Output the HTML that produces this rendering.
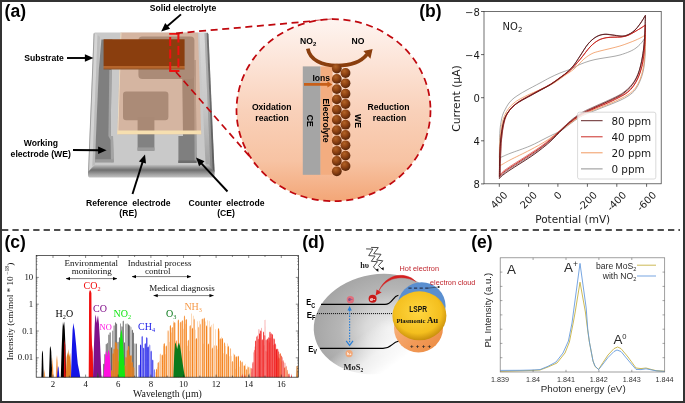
<!DOCTYPE html>
<html lang="en"><head><meta charset="utf-8"><title>Gas sensing figure</title>
<style>html,body{margin:0;padding:0;background:#fff;}body{width:685px;height:403px;overflow:hidden;}svg{display:block;}</style>
</head><body>
<svg width="685" height="403" viewBox="0 0 685 403">
<defs>
<linearGradient id="gCirc" x1="0" y1="0" x2="0" y2="1">
 <stop offset="0" stop-color="#fef5f1"/>
 <stop offset="0.25" stop-color="#fce3d6"/>
 <stop offset="0.5" stop-color="#f9d1ba"/>
 <stop offset="0.78" stop-color="#f7c3a3"/>
 <stop offset="1" stop-color="#f3a677"/>
</linearGradient>
<radialGradient id="gBall" cx="0.38" cy="0.3" r="0.75">
 <stop offset="0" stop-color="#b36326"/>
 <stop offset="0.5" stop-color="#8c4112"/>
 <stop offset="1" stop-color="#52230a"/>
</radialGradient>
<linearGradient id="gBase" x1="0" y1="0" x2="1" y2="0">
 <stop offset="0" stop-color="#8a8a8a"/>
 <stop offset="0.025" stop-color="#d2d2d2"/>
 <stop offset="0.07" stop-color="#c9c9c9"/>
 <stop offset="0.90" stop-color="#cbcbcb"/>
 <stop offset="0.955" stop-color="#dedede"/>
 <stop offset="1" stop-color="#9a9a9a"/>
</linearGradient>
<linearGradient id="gBevel" x1="0" y1="0" x2="0" y2="1">
 <stop offset="0" stop-color="#c6c6c6"/>
 <stop offset="0.42" stop-color="#6e6e6e"/>
 <stop offset="0.78" stop-color="#a6a6a6"/>
 <stop offset="1" stop-color="#c2c2c2"/>
</linearGradient>
<radialGradient id="gGold" cx="0.47" cy="0.42" r="0.58">
 <stop offset="0" stop-color="#ffd640"/>
 <stop offset="0.75" stop-color="#f4bf1e"/>
 <stop offset="1" stop-color="#c98f0c"/>
</radialGradient>
<radialGradient id="gMoS" cx="0.58" cy="0.56" r="0.62">
 <stop offset="0" stop-color="#ededed"/>
 <stop offset="0.3" stop-color="#dadada"/>
 <stop offset="0.62" stop-color="#b6b6b6"/>
 <stop offset="1" stop-color="#a3a3a3"/>
</radialGradient>
<linearGradient id="gFade" x1="0.30" y1="0.62" x2="0.52" y2="0.95">
 <stop offset="0" stop-color="#fff" stop-opacity="0"/>
 <stop offset="0.55" stop-color="#fff" stop-opacity="0.75"/>
 <stop offset="1" stop-color="#fff" stop-opacity="1"/>
</linearGradient>
<linearGradient id="gOrg" x1="0" y1="0" x2="1" y2="1">
 <stop offset="0" stop-color="#f9bc8e"/>
 <stop offset="0.6" stop-color="#f29a58"/>
 <stop offset="1" stop-color="#ea8a40"/>
</linearGradient>
<linearGradient id="gRShade" x1="0" y1="0" x2="0" y2="1">
 <stop offset="0" stop-color="#404040" stop-opacity="0"/>
 <stop offset="0.5" stop-color="#404040" stop-opacity="0.1"/>
 <stop offset="1" stop-color="#404040" stop-opacity="0.38"/>
</linearGradient>
<marker id="arrS" viewBox="0 0 10 10" refX="9.5" refY="5" markerUnits="userSpaceOnUse" markerWidth="4.4" markerHeight="4.4" orient="auto-start-reverse"><path d="M0,1.2 L10,5 L0,8.8 z" fill="#000"/></marker>
</defs>
<rect x="0" y="0" width="685" height="403" fill="#333"/>
<rect x="2" y="2" width="681" height="399" fill="#fff"/>
<line x1="2" y1="230.1" x2="680" y2="230.1" stroke="#151515" stroke-width="1.5" stroke-dasharray="6.3,4.106"/>
<text x="4.6" y="17.4" font-size="17.5" font-weight="bold" text-anchor="start" fill="#000" font-family='"Liberation Sans", Arial, Helvetica, sans-serif' >(a)</text>
<text x="419.2" y="17.2" font-size="17.5" font-weight="bold" text-anchor="start" fill="#000" font-family='"Liberation Sans", Arial, Helvetica, sans-serif' >(b)</text>
<text x="4.4" y="248.4" font-size="17.5" font-weight="bold" text-anchor="start" fill="#000" font-family='"Liberation Sans", Arial, Helvetica, sans-serif' >(c)</text>
<text x="302.3" y="248.2" font-size="17.5" font-weight="bold" text-anchor="start" fill="#000" font-family='"Liberation Sans", Arial, Helvetica, sans-serif' >(d)</text>
<text x="471.2" y="248.2" font-size="17.5" font-weight="bold" text-anchor="start" fill="#000" font-family='"Liberation Sans", Arial, Helvetica, sans-serif' >(e)</text>
<path d="M95,32.5 L207,32.5 Q208.3,32.5 208.4,34 L214.4,172 L88.2,172 L93.7,34 Q93.8,32.5 95,32.5Z" fill="#c9c9c9"/>
<polygon points="94.2,33 97.6,35 92.4,166 88.6,171.6" fill="#d4d4d4"/>
<polygon points="97.6,35 100,37 95,164.5 92.4,166" fill="#bcbcbc"/>
<line x1="94.1" y1="33.4" x2="88.5" y2="172" stroke="#9a9a9a" stroke-width="0.9"/>
<polygon points="199.5,33 204.5,33 210.4,167 205.5,164.5" fill="#d8d8d8"/>
<polygon points="204.5,33 206.6,33 212.6,170 210.4,167" fill="#b0b0b0"/>
<polygon points="206.6,33 207.6,32.8 208.5,34.5 214.6,172 212.6,170" fill="#6e6e6e"/>
<polygon points="199.5,33 207.6,32.8 214.6,172 205.5,164.5" fill="url(#gRShade)"/>
<path d="M95,164.5 L208.7,164.5 L214.6,172 L214.6,175 Q214.6,177.6 212,177.6 L90.6,177.6 Q88,177.6 88,175 L88,172Z" fill="url(#gBevel)"/>
<polygon points="101.4,39.4 112.3,39.4 111.6,70 110.6,136 113,136 113.6,162.3 95,162.3 96.6,120 98.8,70" fill="#7f7f7f"/>
<polygon points="109.3,70 111.6,70 110.6,136 113,136 113.6,162.3 111,162.3 110.6,140 108.4,136" fill="#a4a4a4"/>
<polygon points="95.1,159.3 113.5,159.3 113.6,162.3 95,162.3" fill="#9b9b9b"/>
<polygon points="182,60 195.6,60 196.3,136 196.6,163 178.4,163 178.4,136 183,136" fill="#7f7f7f"/>
<polygon points="194,60 195.6,60 196.6,163 194.6,163" fill="#a0a0a0"/>
<polygon points="178.4,160.4 196.5,160.4 196.6,163 178.4,163" fill="#6c6c6c"/>
<rect x="138.4" y="36.4" width="56" height="42.6" rx="4" fill="#858585"/>
<rect x="123" y="91.5" width="45.4" height="28.8" rx="3.2" fill="#858585"/>
<rect x="137.6" y="117" width="16.8" height="33.6" fill="#828282"/>
<rect x="137.6" y="147.4" width="16.8" height="3.4" fill="#9b9b9b"/>
<polygon points="120.6,32.6 198,32.6 201.2,134.2 117.4,134.2" fill="#e79561" fill-opacity="0.39"/>
<polygon points="120.6,32.6 121.4,32.6 118.2,134.2 117.4,134.2" fill="#f3e6cc" fill-opacity="0.9"/>
<polygon points="117.5,130.6 201.1,130.6 201.2,134.2 117.4,134.2" fill="#f6dfb0"/>
<polygon points="103.6,39.2 184.6,39.2 184.6,66 103.6,66" fill="#8a3e0e"/>
<polygon points="103.6,66 184.6,66 184.6,69.3 103.6,69.3" fill="#b5652c"/>
<polygon points="103.6,68.4 184.6,68.4 184.6,69.6 103.6,69.6" fill="#7a4a2a" fill-opacity="0.6"/>
<path d="M170.2,71 L170.2,33.6 M178.4,33.6 L178.4,71" fill="none" stroke="#ee1111" stroke-width="2" stroke-dasharray="9,3.5"/>
<path d="M169.2,33.8 L179.4,33.8 M169.2,71 L179.4,71" fill="none" stroke="#ee1111" stroke-width="1.8"/>
<line x1="176" y1="33.3" x2="334" y2="19.2" stroke="#c0080e" stroke-width="1.75" stroke-dasharray="7,4.6"/>
<line x1="176" y1="72" x2="251" y2="158" stroke="#c0080e" stroke-width="1.75" stroke-dasharray="7,4.6"/>
<ellipse cx="333.5" cy="110.2" rx="97" ry="91" fill="url(#gCirc)" stroke="#c0080e" stroke-width="1.75" stroke-dasharray="7,4.6"/>
<rect x="302.8" y="66.4" width="17.8" height="108.4" fill="#a5a5a5"/>
<rect x="320.6" y="66.4" width="12" height="108.4" fill="#f3ad80"/>
<path d="M307.8,48.6 C310,60 322,65.6 337,65.6 C351,65.6 361.5,61.4 367,54.4" fill="none" stroke="#8a3e0e" stroke-width="3.7"/>
<polygon points="372.6,49 363.4,51 370.4,58.8" fill="#8a3e0e"/>
<circle cx="336.8" cy="68.6" r="4.9" fill="url(#gBall)"/>
<circle cx="336.8" cy="78.9" r="4.9" fill="url(#gBall)"/>
<circle cx="336.8" cy="89.1" r="4.9" fill="url(#gBall)"/>
<circle cx="336.8" cy="99.4" r="4.9" fill="url(#gBall)"/>
<circle cx="336.8" cy="109.7" r="4.9" fill="url(#gBall)"/>
<circle cx="336.8" cy="119.9" r="4.9" fill="url(#gBall)"/>
<circle cx="336.8" cy="130.2" r="4.9" fill="url(#gBall)"/>
<circle cx="336.8" cy="140.5" r="4.9" fill="url(#gBall)"/>
<circle cx="336.8" cy="150.8" r="4.9" fill="url(#gBall)"/>
<circle cx="336.8" cy="161.0" r="4.9" fill="url(#gBall)"/>
<circle cx="336.8" cy="171.3" r="4.9" fill="url(#gBall)"/>
<circle cx="345.5" cy="73.0" r="4.9" fill="url(#gBall)"/>
<circle cx="345.5" cy="83.3" r="4.9" fill="url(#gBall)"/>
<circle cx="345.5" cy="93.7" r="4.9" fill="url(#gBall)"/>
<circle cx="345.5" cy="104.0" r="4.9" fill="url(#gBall)"/>
<circle cx="345.5" cy="114.3" r="4.9" fill="url(#gBall)"/>
<circle cx="345.5" cy="124.7" r="4.9" fill="url(#gBall)"/>
<circle cx="345.5" cy="135.0" r="4.9" fill="url(#gBall)"/>
<circle cx="345.5" cy="145.3" r="4.9" fill="url(#gBall)"/>
<circle cx="345.5" cy="155.6" r="4.9" fill="url(#gBall)"/>
<circle cx="345.5" cy="166.0" r="4.9" fill="url(#gBall)"/>
<polygon points="304,83 327.4,83 327.4,81.2 332.4,84.4 327.4,87.6 327.4,85.8 304,85.8" fill="#c8601a"/>
<text x="321.3" y="81" font-size="8.6" font-weight="bold" text-anchor="middle" fill="#000" font-family='"Liberation Sans", Arial, Helvetica, sans-serif' >Ions</text>
<text x="300" y="44.2" font-size="8.6" font-weight="bold" text-anchor="start" fill="#000" font-family='"Liberation Sans", Arial, Helvetica, sans-serif' >NO<tspan font-size="6" dy="2.2">2</tspan></text>
<text x="358" y="44.4" font-size="8.6" font-weight="bold" text-anchor="middle" fill="#000" font-family='"Liberation Sans", Arial, Helvetica, sans-serif' >NO</text>
<text transform="translate(307.2,120.7) rotate(90)" font-size="8.6" font-weight="bold" text-anchor="middle" font-family='"Liberation Sans", Arial, Helvetica, sans-serif'>CE</text>
<text transform="translate(323.4,120.5) rotate(90)" font-size="8.6" font-weight="bold" text-anchor="middle" font-family='"Liberation Sans", Arial, Helvetica, sans-serif'>Electrolyte</text>
<text transform="translate(354.6,121) rotate(90)" font-size="8.6" font-weight="bold" text-anchor="middle" font-family='"Liberation Sans", Arial, Helvetica, sans-serif'>WE</text>
<text x="271.7" y="110.4" font-size="8.6" font-weight="bold" text-anchor="middle" fill="#000" font-family='"Liberation Sans", Arial, Helvetica, sans-serif' >Oxidation</text>
<text x="272" y="120.6" font-size="8.6" font-weight="bold" text-anchor="middle" fill="#000" font-family='"Liberation Sans", Arial, Helvetica, sans-serif' >reaction</text>
<text x="388.5" y="110.4" font-size="8.6" font-weight="bold" text-anchor="middle" fill="#000" font-family='"Liberation Sans", Arial, Helvetica, sans-serif' >Reduction</text>
<text x="389.5" y="120.6" font-size="8.6" font-weight="bold" text-anchor="middle" fill="#000" font-family='"Liberation Sans", Arial, Helvetica, sans-serif' >reaction</text>
<text x="183" y="11" font-size="8.6" font-weight="bold" text-anchor="middle" fill="#000" font-family='"Liberation Sans", Arial, Helvetica, sans-serif' >Solid electrolyte</text>
<line x1="181.0" y1="14.4" x2="166.9" y2="26.5" stroke="#000" stroke-width="1.9"/><polygon points="161.2,31.4 165.2,23.1 170.1,28.7" fill="#000"/>
<text x="44" y="61" font-size="8.6" font-weight="bold" text-anchor="middle" fill="#000" font-family='"Liberation Sans", Arial, Helvetica, sans-serif' >Substrate</text>
<line x1="67.0" y1="58.0" x2="85.9" y2="58.0" stroke="#000" stroke-width="1.9"/><polygon points="93.4,58.0 84.9,61.7 84.9,54.3" fill="#000"/>
<text x="40.8" y="146.4" font-size="8.6" font-weight="bold" text-anchor="middle" fill="#000" font-family='"Liberation Sans", Arial, Helvetica, sans-serif' >Working</text>
<text x="40.7" y="156.6" font-size="8.6" font-weight="bold" text-anchor="middle" fill="#000" font-family='"Liberation Sans", Arial, Helvetica, sans-serif' >electrode (WE)</text>
<line x1="73.0" y1="150.0" x2="99.1" y2="150.2" stroke="#000" stroke-width="1.9"/><polygon points="106.6,150.3 98.1,153.9 98.1,146.5" fill="#000"/>
<text x="128.2" y="205.8" font-size="8.6" font-weight="bold" text-anchor="middle" fill="#000" font-family='"Liberation Sans", Arial, Helvetica, sans-serif' xml:space="preserve">Reference  electrode</text>
<text x="128.2" y="216" font-size="8.6" font-weight="bold" text-anchor="middle" fill="#000" font-family='"Liberation Sans", Arial, Helvetica, sans-serif' >(RE)</text>
<text x="226.5" y="205.8" font-size="8.6" font-weight="bold" text-anchor="middle" fill="#000" font-family='"Liberation Sans", Arial, Helvetica, sans-serif' xml:space="preserve">Counter  electrode</text>
<text x="226" y="216" font-size="8.6" font-weight="bold" text-anchor="middle" fill="#000" font-family='"Liberation Sans", Arial, Helvetica, sans-serif' >(CE)</text>
<line x1="132.5" y1="194.0" x2="142.7" y2="161.6" stroke="#000" stroke-width="1.9"/><polygon points="145.0,154.4 146.0,163.6 138.9,161.4" fill="#000"/>
<line x1="227.5" y1="191.5" x2="201.1" y2="163.1" stroke="#000" stroke-width="1.9"/><polygon points="196.0,157.6 204.5,161.3 199.1,166.3" fill="#000"/>
<path d="M499.4,158.0 C499.4,155.8 499.4,149.8 499.5,145.0 C499.6,140.2 499.7,134.2 500.0,130.0 C500.3,125.8 500.9,122.7 501.4,120.0 C501.9,117.3 502.4,115.8 503.0,114.0 C503.6,112.2 504.2,111.3 505.2,109.4 C506.2,107.5 507.5,104.9 509.0,103.0 C510.5,101.1 512.1,99.5 514.0,98.0 C515.9,96.5 518.0,95.3 520.0,94.0 C522.0,92.7 522.6,92.4 526.0,90.5 C529.4,88.6 535.9,85.2 540.0,83.0 C544.1,80.8 546.6,79.3 550.0,77.6 C553.4,75.9 556.3,74.5 560.0,73.0 C563.7,71.5 568.6,70.1 572.0,68.6 C575.4,67.1 576.9,65.7 580.0,64.4 C583.1,63.1 586.6,61.8 590.0,60.8 C593.4,59.8 596.6,59.2 600.0,58.6 C603.4,58.0 606.6,57.6 610.0,57.0 C613.4,56.4 616.6,56.0 620.0,55.0 C623.4,54.0 627.3,52.6 630.0,51.4 C632.7,50.2 634.3,49.2 636.0,48.0 C637.7,46.8 638.8,45.6 640.0,44.4 C641.2,43.2 642.1,42.1 643.0,40.8 C643.9,39.5 645.0,37.6 645.4,37.0" fill="none" stroke="#8c8c8c" stroke-width="0.75" stroke-linejoin="round"/>
<path d="M645.4,37.0 C645.4,39.2 645.4,45.8 645.3,50.0 C645.2,54.2 645.0,58.3 644.6,62.0 C644.2,65.7 643.8,68.8 643.0,72.0 C642.2,75.2 641.3,78.0 640.0,81.0 C638.7,84.0 637.4,87.0 635.5,89.5 C633.6,92.0 631.6,93.6 629.0,95.5 C626.4,97.4 623.2,98.9 620.0,100.4 C616.8,101.9 613.4,103.2 610.0,104.6 C606.6,106.0 603.4,107.2 600.0,108.5 C596.6,109.8 593.4,111.1 590.0,112.5 C586.6,113.9 583.4,115.0 580.0,117.0 C576.6,119.0 573.1,121.8 570.0,124.0 C566.9,126.2 566.1,127.6 562.0,130.0 C557.9,132.4 551.4,135.3 546.0,138.0 C540.6,140.7 536.1,143.4 530.0,146.0 C523.9,148.6 514.6,151.6 510.0,153.4 C505.4,155.2 504.8,155.6 503.0,156.4 C501.2,157.2 500.0,157.7 499.4,158.0" fill="none" stroke="#8c8c8c" stroke-width="0.75" stroke-linejoin="round"/>
<path d="M499.4,166.0 C499.4,163.3 499.4,155.1 499.6,150.0 C499.8,144.9 499.9,140.4 500.3,136.0 C500.7,131.6 501.3,127.5 502.0,124.0 C502.7,120.5 503.5,118.2 504.6,115.5 C505.7,112.8 507.0,110.5 508.6,108.4 C510.2,106.3 512.1,104.6 514.0,103.0 C515.9,101.4 517.3,100.5 520.0,99.0 C522.7,97.5 525.9,95.9 530.0,94.0 C534.1,92.1 539.9,89.9 544.0,88.0 C548.1,86.1 550.6,85.0 554.0,83.0 C557.4,81.0 560.6,78.4 564.0,76.0 C567.4,73.6 570.6,71.9 574.0,69.0 C577.4,66.1 580.9,61.6 584.0,59.0 C587.1,56.4 589.3,55.0 592.0,53.6 C594.7,52.2 596.9,51.9 600.0,51.0 C603.1,50.1 606.6,49.5 610.0,48.6 C613.4,47.8 616.9,46.9 620.0,46.0 C623.1,45.1 625.3,44.2 628.0,43.2 C630.7,42.2 633.8,41.0 636.0,40.0 C638.2,39.0 639.4,38.5 641.0,37.6 C642.6,36.8 644.7,35.4 645.4,35.0" fill="none" stroke="#f0965a" stroke-width="0.8" stroke-linejoin="round"/>
<path d="M645.4,35.0 C645.4,37.2 645.4,43.8 645.2,48.0 C645.0,52.2 644.8,56.3 644.4,60.0 C644.0,63.7 643.5,66.7 642.8,70.0 C642.1,73.3 641.2,76.4 640.0,79.5 C638.8,82.6 637.4,85.5 635.5,88.0 C633.6,90.5 631.6,92.1 629.0,94.0 C626.4,95.9 623.2,97.4 620.0,99.0 C616.8,100.6 613.4,102.1 610.0,103.5 C606.6,104.9 603.4,106.1 600.0,107.5 C596.6,108.9 593.4,110.0 590.0,111.5 C586.6,113.0 583.4,114.5 580.0,116.5 C576.6,118.5 573.4,121.0 570.0,123.5 C566.6,126.0 564.1,128.0 560.0,131.0 C555.9,134.0 551.1,137.8 546.0,141.0 C540.9,144.2 536.1,146.8 530.0,150.0 C523.9,153.2 514.6,157.6 510.0,160.0 C505.4,162.4 504.8,163.0 503.0,164.0 C501.2,165.0 500.0,165.7 499.4,166.0" fill="none" stroke="#f0965a" stroke-width="0.8" stroke-linejoin="round"/>
<path d="M499.4,176.6 C499.4,174.3 499.5,167.9 499.6,163.0 C499.7,158.1 499.9,152.4 500.2,148.0 C500.5,143.6 500.6,140.8 501.1,137.0 C501.6,133.2 502.1,129.0 502.9,125.5 C503.7,122.0 504.5,119.1 505.7,116.5 C506.9,113.9 508.3,112.0 509.8,110.0 C511.3,108.0 513.0,106.5 514.8,105.0 C516.6,103.5 517.7,102.6 520.3,101.0 C522.9,99.4 526.7,97.4 530.0,95.6 C533.3,93.8 536.6,92.0 540.0,90.2 C543.4,88.4 546.6,86.9 550.0,84.8 C553.4,82.7 556.6,80.2 560.0,77.8 C563.4,75.4 566.6,73.6 570.0,70.5 C573.4,67.4 576.6,63.5 580.0,59.5 C583.4,55.5 586.9,50.2 590.0,47.0 C593.1,43.8 595.3,42.1 598.0,40.5 C600.7,38.9 603.3,38.4 606.0,37.8 C608.7,37.2 611.5,37.3 614.0,37.2 C616.5,37.1 618.6,37.3 621.0,37.0 C623.4,36.7 625.5,36.4 628.0,35.4 C630.5,34.4 633.8,32.3 636.0,31.0 C638.2,29.7 639.4,29.0 641.0,28.0 C642.6,27.0 644.7,25.5 645.4,25.0" fill="none" stroke="#c8201a" stroke-width="0.95" stroke-linejoin="round"/>
<path d="M645.4,25.0 C645.3,27.2 645.3,33.8 645.1,38.0 C644.9,42.2 644.7,45.9 644.3,50.0 C643.9,54.1 643.4,58.4 642.8,62.0 C642.2,65.6 641.5,68.1 640.6,71.0 C639.7,73.9 638.9,76.4 637.6,79.0 C636.3,81.6 634.9,84.2 633.2,86.5 C631.5,88.8 629.7,90.7 627.5,92.5 C625.3,94.3 623.0,95.4 620.0,97.0 C617.0,98.6 613.4,100.4 610.0,102.0 C606.6,103.6 603.4,104.8 600.0,106.2 C596.6,107.6 593.4,108.9 590.0,110.5 C586.6,112.1 583.4,113.4 580.0,115.5 C576.6,117.6 573.2,120.1 570.0,122.6 C566.8,125.1 564.4,127.3 561.0,130.3 C557.6,133.3 553.6,137.2 550.0,140.2 C546.4,143.2 543.4,145.5 540.0,148.0 C536.6,150.5 533.4,152.6 530.0,154.8 C526.6,157.0 523.4,159.0 520.0,161.2 C516.6,163.4 513.0,165.6 510.0,167.6 C507.0,169.6 504.3,171.5 502.5,173.0 C500.7,174.5 499.9,176.0 499.4,176.6" fill="none" stroke="#c8201a" stroke-width="0.95" stroke-linejoin="round"/>
<path d="M499.4,178.6 C499.4,176.3 499.4,169.9 499.5,165.0 C499.6,160.1 499.8,154.6 500.0,150.0 C500.2,145.4 500.5,142.1 500.9,138.0 C501.3,133.9 501.9,129.6 502.6,126.0 C503.3,122.4 504.1,119.6 505.2,117.0 C506.3,114.4 507.8,112.5 509.3,110.5 C510.8,108.5 512.5,107.0 514.3,105.5 C516.1,104.0 517.3,103.1 520.0,101.5 C522.7,99.9 526.6,97.9 530.0,96.0 C533.4,94.1 536.6,92.4 540.0,90.5 C543.4,88.6 546.6,87.1 550.0,85.0 C553.4,82.9 556.9,80.3 560.0,78.0 C563.1,75.7 565.6,73.7 568.0,71.5 C570.4,69.3 572.0,67.6 574.0,65.0 C576.0,62.4 577.6,59.6 580.0,56.0 C582.4,52.4 585.3,47.2 588.0,44.0 C590.7,40.8 593.3,38.6 596.0,37.0 C598.7,35.4 601.3,34.7 604.0,34.4 C606.7,34.1 609.1,34.7 612.0,35.0 C614.9,35.3 618.5,36.2 621.0,36.2 C623.5,36.2 624.8,36.1 627.0,35.2 C629.2,34.3 631.8,32.9 634.0,31.0 C636.2,29.1 638.1,26.7 640.0,24.0 C641.9,21.3 644.5,16.9 645.4,15.4" fill="none" stroke="#5c1a1c" stroke-width="0.95" stroke-linejoin="round"/>
<path d="M645.4,15.4 C645.3,17.9 645.2,25.0 645.0,30.0 C644.8,35.0 644.4,40.6 644.0,45.0 C643.6,49.4 643.2,52.4 642.6,56.0 C642.0,59.6 641.4,62.9 640.6,66.0 C639.8,69.1 639.0,71.9 638.0,74.5 C637.0,77.1 635.9,79.3 634.5,81.5 C633.1,83.7 631.6,85.7 630.0,87.5 C628.4,89.3 626.7,90.6 625.0,92.0 C623.3,93.4 622.5,94.1 620.0,95.5 C617.5,96.9 613.4,98.9 610.0,100.5 C606.6,102.1 603.4,103.5 600.0,105.0 C596.6,106.5 593.4,107.9 590.0,109.5 C586.6,111.1 583.4,112.4 580.0,114.5 C576.6,116.6 573.1,119.4 570.0,122.0 C566.9,124.6 565.4,126.4 562.0,129.8 C558.6,133.2 553.7,138.4 550.0,141.8 C546.3,145.2 543.4,147.4 540.0,150.0 C536.6,152.6 533.4,154.9 530.0,157.2 C526.6,159.5 523.4,161.4 520.0,163.6 C516.6,165.8 513.0,168.0 510.0,170.0 C507.0,172.0 504.3,173.9 502.5,175.4 C500.7,176.9 499.9,178.1 499.4,178.6" fill="none" stroke="#5c1a1c" stroke-width="0.95" stroke-linejoin="round"/>
<path d="M500.3,174.8 C500.3,172.5 500.3,166.1 500.5,161.3 C500.6,156.5 500.8,150.9 501.1,146.5 C501.3,142.2 501.5,139.4 502.0,135.7 C502.4,131.9 503.0,127.7 503.8,124.3 C504.5,120.9 505.4,118.0 506.5,115.4 C507.7,112.8 509.1,110.9 510.6,109.0 C512.2,107.0 513.8,105.6 515.6,104.0 C517.4,102.5 518.5,101.7 521.1,100.1 C523.6,98.5 527.4,96.6 530.7,94.8 C534.0,92.9 537.3,91.2 540.6,89.4 C544.0,87.6 547.2,86.2 550.6,84.1 C554.0,82.0 557.1,79.6 560.5,77.2 C563.9,74.8 567.1,73.0 570.5,70.0 C573.8,66.9 577.0,63.0 580.4,59.1 C583.8,55.1 587.3,49.9 590.3,46.7 C593.4,43.5 595.6,41.9 598.3,40.3 C601.0,38.8 603.5,38.2 606.2,37.6 C608.9,37.1 611.7,37.2 614.2,37.1 C616.7,36.9 618.8,37.2 621.1,36.9 C623.5,36.6 625.6,36.3 628.1,35.3 C630.6,34.3 633.9,32.2 636.1,30.9 C638.3,29.7 639.4,29.0 641.0,28.0 C642.6,27.0 644.7,25.5 645.4,25.0" fill="none" stroke="#c8201a" stroke-width="0.7" stroke-opacity="0.85"/>
<path d="M645.4,25.0 C645.3,27.2 645.3,33.6 645.1,37.8 C644.9,42.0 644.7,45.7 644.3,49.7 C643.9,53.7 643.4,58.0 642.8,61.6 C642.2,65.1 641.5,67.6 640.6,70.4 C639.8,73.3 638.9,75.7 637.6,78.4 C636.4,81.0 635.0,83.5 633.3,85.8 C631.6,88.0 629.8,89.9 627.6,91.7 C625.4,93.5 623.1,94.5 620.2,96.1 C617.2,97.7 613.6,99.5 610.2,101.1 C606.8,102.6 603.7,103.8 600.3,105.2 C596.9,106.7 593.7,107.9 590.3,109.5 C587.0,111.0 583.8,112.4 580.4,114.4 C577.0,116.4 573.7,118.9 570.5,121.4 C567.2,123.9 564.9,126.1 561.5,129.0 C558.1,132.0 554.1,135.8 550.6,138.8 C547.0,141.8 544.0,144.1 540.6,146.5 C537.3,149.0 534.1,151.0 530.7,153.2 C527.3,155.5 524.1,157.4 520.8,159.6 C517.4,161.7 513.8,163.9 510.8,165.9 C507.9,167.9 505.1,169.7 503.4,171.2 C501.6,172.7 500.8,174.2 500.3,174.8" fill="none" stroke="#c8201a" stroke-width="0.7" stroke-opacity="0.85"/>
<path d="M500.3,176.6 C500.3,174.4 500.3,168.0 500.4,163.2 C500.5,158.4 500.6,152.9 500.9,148.4 C501.1,143.8 501.3,140.6 501.8,136.5 C502.2,132.5 502.7,128.2 503.5,124.7 C504.2,121.1 504.9,118.4 506.0,115.8 C507.2,113.2 508.6,111.3 510.1,109.4 C511.7,107.4 513.3,105.9 515.1,104.4 C516.9,102.9 518.1,102.1 520.8,100.5 C523.4,98.9 527.3,96.9 530.7,95.0 C534.1,93.2 537.3,91.4 540.6,89.6 C544.0,87.8 547.2,86.3 550.6,84.2 C554.0,82.1 557.5,79.5 560.5,77.2 C563.6,75.0 566.1,73.0 568.5,70.8 C570.8,68.6 572.4,67.0 574.4,64.4 C576.5,61.8 578.0,59.0 580.4,55.5 C582.8,52.0 585.6,46.8 588.3,43.7 C591.0,40.5 593.6,38.4 596.3,36.7 C599.0,35.1 601.5,34.5 604.2,34.2 C607.0,33.8 609.3,34.5 612.2,34.8 C615.1,35.1 618.6,35.9 621.1,36.0 C623.7,36.0 624.9,35.8 627.1,35.0 C629.3,34.1 631.9,32.7 634.1,30.8 C636.3,28.9 638.1,26.5 640.0,23.9 C642.0,21.3 644.5,16.8 645.4,15.4" fill="none" stroke="#5c1a1c" stroke-width="0.7" stroke-opacity="0.85"/>
<path d="M645.4,15.4 C645.3,17.9 645.2,24.9 645.0,29.8 C644.8,34.8 644.4,40.3 644.0,44.6 C643.6,49.0 643.2,52.0 642.6,55.5 C642.0,59.0 641.4,62.3 640.6,65.4 C639.9,68.5 639.1,71.2 638.0,73.8 C637.0,76.4 635.9,78.5 634.6,80.7 C633.2,82.9 631.7,84.9 630.1,86.6 C628.5,88.4 626.8,89.7 625.1,91.1 C623.4,92.4 622.7,93.1 620.2,94.5 C617.6,96.0 613.6,97.9 610.2,99.5 C606.8,101.1 603.7,102.4 600.3,103.9 C596.9,105.4 593.7,106.8 590.3,108.4 C587.0,110.0 583.8,111.2 580.4,113.3 C577.0,115.4 573.5,118.2 570.5,120.7 C567.4,123.3 565.9,125.1 562.5,128.4 C559.1,131.8 554.3,136.9 550.6,140.3 C546.9,143.7 544.0,145.8 540.6,148.4 C537.3,151.0 534.1,153.2 530.7,155.5 C527.3,157.8 524.1,159.7 520.8,161.8 C517.4,164.0 513.8,166.2 510.8,168.1 C507.9,170.1 505.1,172.0 503.4,173.5 C501.6,174.9 500.8,176.1 500.3,176.6" fill="none" stroke="#5c1a1c" stroke-width="0.7" stroke-opacity="0.85"/>
<rect x="484" y="11.5" width="177.20000000000005" height="172.3" fill="none" stroke="#333" stroke-width="0.7"/>
<line x1="481" y1="11.5" x2="484" y2="11.5" stroke="#222" stroke-width="0.7"/>
<text x="479.8" y="16.0" font-size="10" font-weight="normal" text-anchor="end" fill="#1a1a1a" font-family='"DejaVu Sans", "Liberation Sans", sans-serif' >−8</text>
<line x1="481" y1="54.6" x2="484" y2="54.6" stroke="#222" stroke-width="0.7"/>
<text x="479.8" y="59.1" font-size="10" font-weight="normal" text-anchor="end" fill="#1a1a1a" font-family='"DejaVu Sans", "Liberation Sans", sans-serif' >−4</text>
<line x1="481" y1="97.7" x2="484" y2="97.7" stroke="#222" stroke-width="0.7"/>
<text x="479.8" y="102.2" font-size="10" font-weight="normal" text-anchor="end" fill="#1a1a1a" font-family='"DejaVu Sans", "Liberation Sans", sans-serif' >0</text>
<line x1="481" y1="140.8" x2="484" y2="140.8" stroke="#222" stroke-width="0.7"/>
<text x="479.8" y="145.3" font-size="10" font-weight="normal" text-anchor="end" fill="#1a1a1a" font-family='"DejaVu Sans", "Liberation Sans", sans-serif' >4</text>
<line x1="481" y1="183.9" x2="484" y2="183.9" stroke="#222" stroke-width="0.7"/>
<text x="479.8" y="188.4" font-size="10" font-weight="normal" text-anchor="end" fill="#1a1a1a" font-family='"DejaVu Sans", "Liberation Sans", sans-serif' >8</text>
<line x1="499.3" y1="183.8" x2="499.3" y2="186.8" stroke="#222" stroke-width="0.7"/>
<text transform="translate(499.0,199.9) rotate(-45)" font-size="10" text-anchor="middle" fill="#1a1a1a" font-family='"DejaVu Sans", "Liberation Sans", sans-serif' dy="3.65">400</text>
<line x1="528.6" y1="183.8" x2="528.6" y2="186.8" stroke="#222" stroke-width="0.7"/>
<text transform="translate(528.3,199.9) rotate(-45)" font-size="10" text-anchor="middle" fill="#1a1a1a" font-family='"DejaVu Sans", "Liberation Sans", sans-serif' dy="3.65">200</text>
<line x1="557.9" y1="183.8" x2="557.9" y2="186.8" stroke="#222" stroke-width="0.7"/>
<text transform="translate(557.6,195.4) rotate(-45)" font-size="10" text-anchor="middle" fill="#1a1a1a" font-family='"DejaVu Sans", "Liberation Sans", sans-serif' dy="3.65">0</text>
<line x1="587.4" y1="183.8" x2="587.4" y2="186.8" stroke="#222" stroke-width="0.7"/>
<text transform="translate(587.1,201.2) rotate(-45)" font-size="10" text-anchor="middle" fill="#1a1a1a" font-family='"DejaVu Sans", "Liberation Sans", sans-serif' dy="3.65">-200</text>
<line x1="616.8" y1="183.8" x2="616.8" y2="186.8" stroke="#222" stroke-width="0.7"/>
<text transform="translate(616.5,201.2) rotate(-45)" font-size="10" text-anchor="middle" fill="#1a1a1a" font-family='"DejaVu Sans", "Liberation Sans", sans-serif' dy="3.65">-400</text>
<line x1="646.6" y1="183.8" x2="646.6" y2="186.8" stroke="#222" stroke-width="0.7"/>
<text transform="translate(646.3,201.2) rotate(-45)" font-size="10" text-anchor="middle" fill="#1a1a1a" font-family='"DejaVu Sans", "Liberation Sans", sans-serif' dy="3.65">-600</text>
<text x="572.7" y="222.5" font-size="10.5" font-weight="normal" text-anchor="middle" fill="#1a1a1a" font-family='"DejaVu Sans", "Liberation Sans", sans-serif' >Potential (mV)</text>
<text transform="translate(460.2,98.5) rotate(-90)" font-size="10.8" text-anchor="middle" fill="#1a1a1a" font-family='"DejaVu Sans", "Liberation Sans", sans-serif'>Current (µA)</text>
<text x="502.6" y="30" font-size="10" font-weight="normal" text-anchor="start" fill="#1a1a1a" font-family='"DejaVu Sans", "Liberation Sans", sans-serif' >NO<tspan font-size="7" dy="2">2</tspan></text>
<rect x="577.6" y="112.2" width="78.2" height="66.8" rx="1.8" fill="#fff" fill-opacity="0.8" stroke="#d0d0d0" stroke-width="0.8"/>
<line x1="581" y1="120.7" x2="602.6" y2="120.7" stroke="#5c1a1c" stroke-width="0.95"/>
<text x="611.4" y="124.7" font-size="10.4" font-weight="normal" text-anchor="start" fill="#1a1a1a" font-family='"DejaVu Sans", "Liberation Sans", sans-serif' >80 ppm</text>
<line x1="581" y1="136.8" x2="602.6" y2="136.8" stroke="#c8201a" stroke-width="0.95"/>
<text x="611.4" y="140.8" font-size="10.4" font-weight="normal" text-anchor="start" fill="#1a1a1a" font-family='"DejaVu Sans", "Liberation Sans", sans-serif' >40 ppm</text>
<line x1="581" y1="152.8" x2="602.6" y2="152.8" stroke="#f0965a" stroke-width="0.95"/>
<text x="611.4" y="156.8" font-size="10.4" font-weight="normal" text-anchor="start" fill="#1a1a1a" font-family='"DejaVu Sans", "Liberation Sans", sans-serif' >20 ppm</text>
<line x1="581" y1="168.9" x2="602.6" y2="168.9" stroke="#8c8c8c" stroke-width="0.95"/>
<text x="611.4" y="172.9" font-size="10.4" font-weight="normal" text-anchor="start" fill="#1a1a1a" font-family='"DejaVu Sans", "Liberation Sans", sans-serif' >0 ppm</text>
<path d="M41.4,377.2 L41.40,377.0 L42.00,352.0 L42.50,350.4 L43.00,354.0 L43.70,377.0 L43.7,377.2Z" fill="#000" fill-opacity="1.0"/>
<path d="M43.6,377.2 L43.60,377.0 L44.40,369.0 L45.20,377.0 L45.2,377.2Z" fill="#f59a4a" fill-opacity="1.0"/>
<path d="M49.0,377.2 L49.00,377.0 L49.90,348.0 L50.50,346.0 L51.20,351.0 L52.30,377.0 L52.3,377.2Z" fill="#000" fill-opacity="1.0"/>
<path d="M51.6,377.2 L51.60,377.0 L52.50,357.0 L53.60,377.0 L53.6,377.2Z" fill="#f59a4a" fill-opacity="1.0"/>
<path d="M55.8,377.2 L55.80,377.0 L56.40,360.0 L57.00,355.0 L57.60,362.0 L58.20,377.0 L58.2,377.2Z" fill="#f59a4a" fill-opacity="1.0"/>
<path d="M57.0,377.2 L57.00,377.0 L58.00,366.0 L58.60,368.0 L59.40,377.0 L59.4,377.2Z" fill="#1414e6" fill-opacity="1.0"/>
<path d="M60.8,377.2 L60.80,377.0 L61.60,350.0 L62.40,330.0 L63.00,321.5 L63.60,326.0 L64.20,321.5 L64.80,330.0 L65.40,345.0 L66.20,377.0 L66.2,377.2Z" fill="#000" fill-opacity="1.0"/>
<path d="M63.8,377.2 L63.80,377.0 L64.40,339.0 L65.20,345.0 L65.80,377.0 L65.8,377.2Z" fill="#e01010" fill-opacity="1.0"/>
<path d="M65.8,377.2 L65.80,377.0 L66.60,358.0 L67.40,352.0 L68.00,356.0 L68.80,349.0 L69.40,357.0 L70.20,353.0 L71.00,366.0 L71.60,377.0 L71.6,377.2Z" fill="#e07f22" fill-opacity="1.0"/>
<path d="M71.0,377.2 L71.00,377.0 L71.80,350.0 L72.60,330.0 L73.40,323.0 L74.00,327.0 L74.60,330.0 L75.40,338.0 L76.20,346.0 L77.00,356.0 L77.80,364.0 L78.60,368.0 L79.20,371.0 L80.20,377.0 L80.2,377.2Z" fill="#1414e6" fill-opacity="1.0"/>
<path d="M103.27,377.2 L103.27,364.6 L103.75,363.6 L104.23,364.6 L104.23,377.2Z M104.43,377.2 L104.43,354.7 L104.91,353.7 L105.38,354.7 L105.38,377.2Z M105.79,377.2 L105.79,344.5 L106.22,343.5 L106.66,344.5 L106.66,377.2Z M108.45,377.2 L108.45,335.3 L108.83,334.3 L109.21,335.3 L109.21,377.2Z M109.61,377.2 L109.61,333.1 L110.10,332.1 L110.59,333.1 L110.59,377.2Z M111.13,377.2 L111.13,348.0 L111.57,347.0 L112.02,348.0 L112.02,377.2Z M113.69,377.2 L113.69,325.9 L114.06,324.9 L114.43,325.9 L114.43,377.2Z M114.96,377.2 L114.96,322.9 L115.36,321.9 L115.76,322.9 L115.76,377.2Z M116.24,377.2 L116.24,324.2 L116.66,323.2 L117.08,324.2 L117.08,377.2Z M117.58,377.2 L117.58,342.4 L118.04,341.4 L118.50,342.4 L118.50,377.2Z M118.93,377.2 L118.93,338.1 L119.37,337.1 L119.80,338.1 L119.80,377.2Z M121.54,377.2 L121.54,326.9 L121.95,325.9 L122.36,326.9 L122.36,377.2Z M122.74,377.2 L122.74,321.5 L123.20,320.5 L123.67,321.5 L123.67,377.2Z M124.17,377.2 L124.17,342.9 L124.57,341.9 L124.98,342.9 L124.98,377.2Z M126.68,377.2 L126.68,324.1 L127.06,323.1 L127.44,324.1 L127.44,377.2Z M127.95,377.2 L127.95,324.9 L128.44,323.9 L128.92,324.9 L128.92,377.2Z M129.24,377.2 L129.24,326.1 L129.71,325.1 L130.17,326.1 L130.17,377.2Z M131.82,377.2 L131.82,330.6 L132.30,329.6 L132.78,330.6 L132.78,377.2Z M133.25,377.2 L133.25,333.2 L133.63,332.2 L134.01,333.2 L134.01,377.2Z M135.87,377.2 L135.87,344.3 L136.30,343.3 L136.72,344.3 L136.72,377.2Z" fill="#505050" fill-opacity="1.0"/><path d="M107.04,377.2 L107.04,343.5 L107.50,342.5 L107.96,343.5 L107.96,377.2Z M112.27,377.2 L112.27,331.2 L112.74,330.2 L113.22,331.2 L113.22,377.2Z M120.12,377.2 L120.12,324.1 L120.50,323.1 L120.89,324.1 L120.89,377.2Z M125.39,377.2 L125.39,324.4 L125.82,323.4 L126.25,324.4 L126.25,377.2Z M130.63,377.2 L130.63,327.5 L130.99,326.5 L131.36,327.5 L131.36,377.2Z M134.50,377.2 L134.50,344.1 L134.97,343.1 L135.44,344.1 L135.44,377.2Z" fill="#808080" fill-opacity="1.0"/>
<path d="M110.88,377.2 L110.88,371.3 L111.57,369.8 L112.26,371.3 L112.26,377.2Z M112.39,377.2 L112.39,354.2 L112.92,352.7 L113.45,354.2 L113.45,377.2Z M113.41,377.2 L113.41,349.7 L114.07,348.2 L114.72,349.7 L114.72,377.2Z M114.82,377.2 L114.82,343.1 L115.39,341.6 L115.97,343.1 L115.97,377.2Z M116.00,377.2 L116.00,343.8 L116.63,342.3 L117.27,343.8 L117.27,377.2Z M117.31,377.2 L117.31,350.1 L117.82,348.6 L118.33,350.1 L118.33,377.2Z M118.45,377.2 L118.45,362.0 L119.11,360.5 L119.76,362.0 L119.76,377.2Z" fill="#e07f22" fill-opacity="1.0"/>
<path d="M123.98,377.2 L123.98,366.3 L124.62,364.8 L125.26,366.3 L125.26,377.2Z M125.32,377.2 L125.32,358.0 L125.95,356.5 L126.58,358.0 L126.58,377.2Z M126.73,377.2 L126.73,350.9 L127.27,349.4 L127.81,350.9 L127.81,377.2Z M127.91,377.2 L127.91,346.9 L128.55,345.4 L129.19,346.9 L129.19,377.2Z M129.20,377.2 L129.20,355.9 L129.83,354.4 L130.46,355.9 L130.46,377.2Z M130.45,377.2 L130.45,356.3 L131.09,354.8 L131.73,356.3 L131.73,377.2Z M131.78,377.2 L131.78,363.0 L132.33,361.5 L132.88,363.0 L132.88,377.2Z M133.18,377.2 L133.18,368.1 L133.73,366.6 L134.28,368.1 L134.28,377.2Z" fill="#e07f22" fill-opacity="1.0"/>
<path d="M88.7,377.2 L88.70,377.0 L88.90,345.0 L89.10,293.0 L89.60,290.6 L90.60,290.6 L91.40,293.0 L91.60,330.0 L92.00,345.0 L92.80,352.0 L93.20,377.0 L93.2,377.2Z" fill="#f01010" fill-opacity="1.0"/>
<path d="M93.0,377.2 L93.00,377.0 L93.80,350.0 L94.60,328.0 L95.30,314.5 L96.00,317.0 L96.70,323.0 L97.40,318.0 L98.00,315.6 L98.90,323.0 L99.80,338.0 L100.60,356.0 L101.40,377.0 L101.4,377.2Z" fill="#80108a" fill-opacity="1.0"/>
<path d="M97.3,377.2 L97.30,377.0 L97.90,372.0 L98.50,377.0 L98.5,377.2Z" fill="#0a7a0a" fill-opacity="1.0"/>
<path d="M103.6,377.2 L103.60,377.0 L104.40,366.0 L105.20,356.0 L106.00,350.5 L106.70,353.0 L107.30,357.0 L108.00,352.0 L108.80,349.6 L109.60,354.0 L110.30,364.0 L111.00,377.0 L111.0,377.2Z" fill="#ff10e0" fill-opacity="1.0"/>
<path d="M118.3,377.2 L118.30,377.0 L119.00,358.0 L119.70,344.0 L120.40,335.0 L121.30,329.2 L122.10,333.0 L122.80,340.0 L123.50,350.0 L124.30,362.0 L125.10,377.0 L125.1,377.2Z" fill="#14e614" fill-opacity="1.0"/>
<path d="M138.61,377.2 L138.61,365.6 L139.11,364.4 L139.61,365.6 L139.61,377.2Z M140.04,377.2 L140.04,345.4 L140.61,344.2 L141.17,345.4 L141.17,377.2Z M141.63,377.2 L141.63,337.0 L142.15,335.8 L142.66,337.0 L142.66,377.2Z M143.21,377.2 L143.21,348.6 L143.68,347.4 L144.16,348.6 L144.16,377.2Z M144.66,377.2 L144.66,344.2 L145.22,343.0 L145.79,344.2 L145.79,377.2Z M146.22,377.2 L146.22,338.2 L146.79,337.0 L147.37,338.2 L147.37,377.2Z M147.55,377.2 L147.55,347.4 L148.17,346.2 L148.80,347.4 L148.80,377.2Z M150.55,377.2 L150.55,351.8 L151.12,350.6 L151.69,351.8 L151.69,377.2Z M152.26,377.2 L152.26,360.6 L152.78,359.4 L153.29,360.6 L153.29,377.2Z" fill="#2020e8" fill-opacity="1.0"/><path d="M149.33,377.2 L149.33,345.4 L149.79,344.2 L150.26,345.4 L150.26,377.2Z M153.73,377.2 L153.73,370.3 L154.29,369.1 L154.86,370.3 L154.86,377.2Z" fill="#6a6af0" fill-opacity="1.0"/>
<path d="M155.00,377.2 L155.00,372.7 L155.33,371.7 L155.66,372.7 L155.66,377.2Z M157.23,377.2 L157.23,367.5 L157.55,366.5 L157.86,367.5 L157.86,377.2Z M159.05,377.2 L159.05,361.6 L159.44,360.6 L159.82,361.6 L159.82,377.2Z M160.87,377.2 L160.87,355.4 L161.25,354.4 L161.63,355.4 L161.63,377.2Z M163.00,377.2 L163.00,346.4 L163.32,345.4 L163.65,346.4 L163.65,377.2Z M165.06,377.2 L165.06,354.8 L165.43,353.8 L165.81,354.8 L165.81,377.2Z M166.95,377.2 L166.95,331.1 L167.29,330.1 L167.62,331.1 L167.62,377.2Z M168.96,377.2 L168.96,342.6 L169.34,341.6 L169.71,342.6 L169.71,377.2Z M171.03,377.2 L171.03,332.9 L171.43,331.9 L171.82,332.9 L171.82,377.2Z M173.17,377.2 L173.17,321.4 L173.52,320.4 L173.86,321.4 L173.86,377.2Z M175.03,377.2 L175.03,323.2 L175.42,322.2 L175.82,323.2 L175.82,377.2Z M177.04,377.2 L177.04,353.6 L177.37,352.6 L177.69,353.6 L177.69,377.2Z M179.16,377.2 L179.16,352.5 L179.50,351.5 L179.84,352.5 L179.84,377.2Z M180.99,377.2 L180.99,322.2 L181.34,321.2 L181.68,322.2 L181.68,377.2Z M183.06,377.2 L183.06,329.2 L183.41,328.2 L183.77,329.2 L183.77,377.2Z M185.11,377.2 L185.11,324.2 L185.49,323.2 L185.87,324.2 L185.87,377.2Z M187.05,377.2 L187.05,346.2 L187.45,345.2 L187.85,346.2 L187.85,377.2Z M189.10,377.2 L189.10,351.4 L189.46,350.4 L189.83,351.4 L189.83,377.2Z M191.14,377.2 L191.14,314.1 L191.54,313.1 L191.93,314.1 L191.93,377.2Z M192.93,377.2 L192.93,316.2 L193.29,315.2 L193.66,316.2 L193.66,377.2Z M194.96,377.2 L194.96,330.3 L195.26,329.3 L195.57,330.3 L195.57,377.2Z M197.08,377.2 L197.08,321.8 L197.42,320.8 L197.77,321.8 L197.77,377.2Z M199.01,377.2 L199.01,321.6 L199.34,320.6 L199.68,321.6 L199.68,377.2Z M200.92,377.2 L200.92,319.8 L201.27,318.8 L201.62,319.8 L201.62,377.2Z M203.17,377.2 L203.17,344.3 L203.52,343.3 L203.88,344.3 L203.88,377.2Z M205.00,377.2 L205.00,321.9 L205.33,320.9 L205.65,321.9 L205.65,377.2Z M207.00,377.2 L207.00,320.8 L207.36,319.8 L207.73,320.8 L207.73,377.2Z M208.92,377.2 L208.92,321.5 L209.28,320.5 L209.64,321.5 L209.64,377.2Z M210.94,377.2 L210.94,325.5 L211.32,324.5 L211.70,325.5 L211.70,377.2Z M212.86,377.2 L212.86,324.2 L213.26,323.2 L213.66,324.2 L213.66,377.2Z M215.09,377.2 L215.09,329.8 L215.45,328.8 L215.82,329.8 L215.82,377.2Z M217.17,377.2 L217.17,349.7 L217.50,348.7 L217.82,349.7 L217.82,377.2Z M219.04,377.2 L219.04,331.4 L219.35,330.4 L219.66,331.4 L219.66,377.2Z M221.11,377.2 L221.11,337.6 L221.50,336.6 L221.89,337.6 L221.89,377.2Z M223.07,377.2 L223.07,353.8 L223.41,352.8 L223.74,353.8 L223.74,377.2Z M224.89,377.2 L224.89,346.6 L225.28,345.6 L225.67,346.6 L225.67,377.2Z M227.00,377.2 L227.00,343.9 L227.39,342.9 L227.79,343.9 L227.79,377.2Z M229.12,377.2 L229.12,356.7 L229.44,355.7 L229.75,356.7 L229.75,377.2Z M230.98,377.2 L230.98,356.6 L231.30,355.6 L231.61,356.6 L231.61,377.2Z M233.00,377.2 L233.00,354.1 L233.33,353.1 L233.65,354.1 L233.65,377.2Z M235.00,377.2 L235.00,369.4 L235.39,368.4 L235.79,369.4 L235.79,377.2Z M237.15,377.2 L237.15,356.7 L237.46,355.7 L237.77,356.7 L237.77,377.2Z M239.14,377.2 L239.14,367.3 L239.45,366.3 L239.77,367.3 L239.77,377.2Z M240.97,377.2 L240.97,362.8 L241.31,361.8 L241.65,362.8 L241.65,377.2Z M243.21,377.2 L243.21,365.9 L243.54,364.9 L243.87,365.9 L243.87,377.2Z M245.10,377.2 L245.10,364.4 L245.47,363.4 L245.84,364.4 L245.84,377.2Z M247.23,377.2 L247.23,366.5 L247.53,365.5 L247.83,366.5 L247.83,377.2Z M248.91,377.2 L248.91,367.5 L249.27,366.5 L249.62,367.5 L249.62,377.2Z M251.24,377.2 L251.24,371.9 L251.55,370.9 L251.85,371.9 L251.85,377.2Z" fill="#fbcfa6" fill-opacity="1.0"/>
<path d="M156.01,377.2 L156.01,370.1 L156.56,368.5 L157.11,370.1 L157.11,377.2Z M157.64,377.2 L157.64,363.3 L158.22,361.7 L158.80,363.3 L158.80,377.2Z M161.84,377.2 L161.84,355.8 L162.40,354.2 L162.97,355.8 L162.97,377.2Z M163.58,377.2 L163.58,344.4 L164.24,342.8 L164.91,344.4 L164.91,377.2Z M165.67,377.2 L165.67,346.8 L166.29,345.2 L166.90,346.8 L166.90,377.2Z M169.81,377.2 L169.81,326.4 L170.38,324.8 L170.95,326.4 L170.95,377.2Z M171.70,377.2 L171.70,328.3 L172.24,326.7 L172.77,328.3 L172.77,377.2Z M173.62,377.2 L173.62,323.3 L174.23,321.7 L174.85,323.3 L174.85,377.2Z M175.75,377.2 L175.75,341.7 L176.30,340.1 L176.84,341.7 L176.84,377.2Z M177.75,377.2 L177.75,320.8 L178.31,319.2 L178.88,320.8 L178.88,377.2Z M185.62,377.2 L185.62,320.3 L186.25,318.7 L186.88,320.3 L186.88,377.2Z M187.80,377.2 L187.80,341.1 L188.31,339.5 L188.83,341.1 L188.83,377.2Z M191.88,377.2 L191.88,329.0 L192.44,327.4 L193.01,329.0 L193.01,377.2Z M195.73,377.2 L195.73,339.4 L196.41,337.8 L197.09,339.4 L197.09,377.2Z M203.62,377.2 L203.62,319.0 L204.22,317.4 L204.82,319.0 L204.82,377.2Z M206.01,377.2 L206.01,326.7 L206.55,325.1 L207.10,326.7 L207.10,377.2Z M207.85,377.2 L207.85,344.8 L208.42,343.2 L209.00,344.8 L209.00,377.2Z M211.84,377.2 L211.84,348.9 L212.36,347.3 L212.88,348.9 L212.88,377.2Z M217.90,377.2 L217.90,329.4 L218.52,327.8 L219.14,329.4 L219.14,377.2Z M219.71,377.2 L219.71,339.5 L220.27,337.9 L220.84,339.5 L220.84,377.2Z M221.67,377.2 L221.67,339.4 L222.35,337.8 L223.04,339.4 L223.04,377.2Z M227.70,377.2 L227.70,347.2 L228.31,345.6 L228.93,347.2 L228.93,377.2Z M235.60,377.2 L235.60,357.5 L236.28,355.9 L236.97,357.5 L236.97,377.2Z M237.88,377.2 L237.88,357.1 L238.42,355.5 L238.96,357.1 L238.96,377.2Z M243.93,377.2 L243.93,366.5 L244.55,364.9 L245.18,366.5 L245.18,377.2Z" fill="#f58420" fill-opacity="1.0"/><path d="M159.78,377.2 L159.78,354.8 L160.32,353.2 L160.86,354.8 L160.86,377.2Z M167.79,377.2 L167.79,331.7 L168.35,330.1 L168.92,331.7 L168.92,377.2Z M197.92,377.2 L197.92,328.1 L198.52,326.5 L199.11,328.1 L199.11,377.2Z M199.77,377.2 L199.77,325.0 L200.37,323.4 L200.98,325.0 L200.98,377.2Z M213.72,377.2 L213.72,346.4 L214.27,344.8 L214.81,346.4 L214.81,377.2Z M229.94,377.2 L229.94,349.3 L230.50,347.7 L231.06,349.3 L231.06,377.2Z M249.80,377.2 L249.80,368.9 L250.37,367.3 L250.93,368.9 L250.93,377.2Z" fill="#fab67c" fill-opacity="1.0"/><path d="M179.85,377.2 L179.85,323.1 L180.50,321.5 L181.15,323.1 L181.15,377.2Z M181.75,377.2 L181.75,321.6 L182.43,320.0 L183.11,321.6 L183.11,377.2Z M183.91,377.2 L183.91,316.8 L184.49,315.2 L185.07,316.8 L185.07,377.2Z M189.54,377.2 L189.54,326.4 L190.22,324.8 L190.90,326.4 L190.90,377.2Z M193.68,377.2 L193.68,320.1 L194.20,318.5 L194.73,320.1 L194.73,377.2Z M202.00,377.2 L202.00,319.8 L202.59,318.2 L203.17,319.8 L203.17,377.2Z M209.68,377.2 L209.68,327.8 L210.30,326.2 L210.92,327.8 L210.92,377.2Z M215.90,377.2 L215.90,346.5 L216.52,344.9 L217.14,346.5 L217.14,377.2Z M223.92,377.2 L223.92,343.7 L224.53,342.1 L225.13,343.7 L225.13,377.2Z M225.92,377.2 L225.92,355.0 L226.52,353.4 L227.12,355.0 L227.12,377.2Z M231.80,377.2 L231.80,362.3 L232.49,360.7 L233.17,362.3 L233.17,377.2Z M233.94,377.2 L233.94,355.7 L234.56,354.1 L235.18,355.7 L235.18,377.2Z M239.88,377.2 L239.88,361.5 L240.46,359.9 L241.04,361.5 L241.04,377.2Z M241.67,377.2 L241.67,362.8 L242.24,361.2 L242.82,362.8 L242.82,377.2Z M246.01,377.2 L246.01,370.3 L246.56,368.7 L247.11,370.3 L247.11,377.2Z M247.58,377.2 L247.58,368.1 L248.23,366.5 L248.87,368.1 L248.87,377.2Z" fill="#f79a48" fill-opacity="1.0"/>
<path d="M173.4,377.2 L173.40,377.0 L174.20,356.0 L175.00,344.0 L175.60,342.4 L176.40,346.0 L177.20,349.0 L178.00,345.0 L179.00,342.6 L180.00,346.0 L181.00,352.0 L182.40,362.0 L184.00,372.0 L185.00,377.0 L185.0,377.2Z" fill="#0c7a1c" fill-opacity="1.0"/>
<path d="M241.6,377.2 L241.60,377.0 L242.20,373.5 L242.80,377.0 L242.8,377.2Z" fill="#e03020" fill-opacity="1.0"/>
<path d="M244.4,377.2 L244.40,377.0 L245.00,374.0 L245.60,377.0 L245.6,377.2Z" fill="#e03020" fill-opacity="1.0"/>
<path d="M248.6,377.2 L248.60,377.0 L249.20,373.0 L249.80,377.0 L249.8,377.2Z" fill="#777" fill-opacity="1.0"/>
<path d="M250.81,377.2 L250.81,373.0 L251.16,372.0 L251.50,373.0 L251.50,377.2Z M252.06,377.2 L252.06,363.9 L252.42,362.9 L252.79,363.9 L252.79,377.2Z M253.47,377.2 L253.47,352.9 L253.82,351.9 L254.17,352.9 L254.17,377.2Z M254.65,377.2 L254.65,347.0 L255.10,346.0 L255.54,347.0 L255.54,377.2Z M255.99,377.2 L255.99,337.5 L256.43,336.5 L256.87,337.5 L256.87,377.2Z M257.34,377.2 L257.34,336.1 L257.70,335.1 L258.05,336.1 L258.05,377.2Z M258.50,377.2 L258.50,329.8 L258.93,328.8 L259.36,329.8 L259.36,377.2Z M259.91,377.2 L259.91,331.6 L260.36,330.6 L260.82,331.6 L260.82,377.2Z M261.28,377.2 L261.28,328.4 L261.63,327.4 L261.97,328.4 L261.97,377.2Z M262.41,377.2 L262.41,341.1 L262.84,340.1 L263.27,341.1 L263.27,377.2Z M263.76,377.2 L263.76,345.8 L264.12,344.8 L264.47,345.8 L264.47,377.2Z M265.06,377.2 L265.06,351.5 L265.52,350.5 L265.97,351.5 L265.97,377.2Z M266.51,377.2 L266.51,352.1 L266.89,351.1 L267.26,352.1 L267.26,377.2Z M267.57,377.2 L267.57,341.1 L268.02,340.1 L268.47,341.1 L268.47,377.2Z M268.94,377.2 L268.94,342.9 L269.38,341.9 L269.81,342.9 L269.81,377.2Z M270.31,377.2 L270.31,338.8 L270.72,337.8 L271.12,338.8 L271.12,377.2Z M271.56,377.2 L271.56,337.4 L271.91,336.4 L272.26,337.4 L272.26,377.2Z M272.85,377.2 L272.85,345.6 L273.25,344.6 L273.66,345.6 L273.66,377.2Z M274.14,377.2 L274.14,340.0 L274.58,339.0 L275.01,340.0 L275.01,377.2Z M275.43,377.2 L275.43,345.3 L275.80,344.3 L276.17,345.3 L276.17,377.2Z M276.83,377.2 L276.83,355.9 L277.19,354.9 L277.56,355.9 L277.56,377.2Z M278.22,377.2 L278.22,357.5 L278.59,356.5 L278.97,357.5 L278.97,377.2Z M279.50,377.2 L279.50,354.8 L279.89,353.8 L280.28,354.8 L280.28,377.2Z M280.74,377.2 L280.74,361.9 L281.16,360.9 L281.57,361.9 L281.57,377.2Z M282.04,377.2 L282.04,357.7 L282.43,356.7 L282.82,357.7 L282.82,377.2Z M283.31,377.2 L283.31,362.4 L283.77,361.4 L284.23,362.4 L284.23,377.2Z M284.66,377.2 L284.66,363.5 L285.05,362.5 L285.44,363.5 L285.44,377.2Z M286.02,377.2 L286.02,366.5 L286.39,365.5 L286.77,366.5 L286.77,377.2Z M287.23,377.2 L287.23,372.6 L287.59,371.6 L287.95,372.6 L287.95,377.2Z" fill="#f68c8c" fill-opacity="1.0"/>
<path d="M251.26,377.2 L251.26,369.0 L251.79,367.8 L252.32,369.0 L252.32,377.2Z M252.55,377.2 L252.55,362.8 L253.04,361.6 L253.53,362.8 L253.53,377.2Z M253.92,377.2 L253.92,350.8 L254.33,349.6 L254.74,350.8 L254.74,377.2Z M256.55,377.2 L256.55,337.0 L257.06,335.8 L257.56,337.0 L257.56,377.2Z" fill="#f45050" fill-opacity="1.0"/><path d="M255.18,377.2 L255.18,341.4 L255.64,340.2 L256.09,341.4 L256.09,377.2Z M257.76,377.2 L257.76,339.7 L258.22,338.5 L258.67,339.7 L258.67,377.2Z M259.11,377.2 L259.11,334.3 L259.60,333.1 L260.08,334.3 L260.08,377.2Z M260.38,377.2 L260.38,331.4 L260.85,330.2 L261.32,331.4 L261.32,377.2Z M261.77,377.2 L261.77,340.3 L262.24,339.1 L262.72,340.3 L262.72,377.2Z M263.11,377.2 L263.11,332.5 L263.52,331.3 L263.93,332.5 L263.93,377.2Z M264.31,377.2 L264.31,335.9 L264.78,334.7 L265.24,335.9 L265.24,377.2Z M265.63,377.2 L265.63,340.5 L266.13,339.3 L266.64,340.5 L266.64,377.2Z M267.06,377.2 L267.06,339.5 L267.49,338.3 L267.91,339.5 L267.91,377.2Z M268.31,377.2 L268.31,338.3 L268.79,337.1 L269.27,338.3 L269.27,377.2Z M269.46,377.2 L269.46,332.6 L269.98,331.4 L270.50,332.6 L270.50,377.2Z M270.79,377.2 L270.79,334.3 L271.23,333.1 L271.66,334.3 L271.66,377.2Z M272.17,377.2 L272.17,335.0 L272.59,333.8 L273.02,335.0 L273.02,377.2Z M273.48,377.2 L273.48,339.2 L273.99,338.0 L274.50,339.2 L274.50,377.2Z M274.66,377.2 L274.66,344.5 L275.15,343.3 L275.65,344.5 L275.65,377.2Z M275.92,377.2 L275.92,349.7 L276.45,348.5 L276.98,349.7 L276.98,377.2Z M277.25,377.2 L277.25,349.6 L277.74,348.4 L278.22,349.6 L278.22,377.2Z M278.47,377.2 L278.47,358.7 L279.00,357.5 L279.53,358.7 L279.53,377.2Z M279.82,377.2 L279.82,354.4 L280.31,353.2 L280.80,354.4 L280.80,377.2Z" fill="#f01c1c" fill-opacity="1.0"/>
<path d="M276.83,377.2 L276.83,359.7 L277.22,358.5 L277.61,359.7 L277.61,377.2Z M278.22,377.2 L278.22,352.2 L278.69,351.0 L279.16,352.2 L279.16,377.2Z M281.09,377.2 L281.09,356.4 L281.47,355.2 L281.86,356.4 L281.86,377.2Z M282.65,377.2 L282.65,361.1 L283.05,359.9 L283.46,361.1 L283.46,377.2Z M284.00,377.2 L284.00,368.2 L284.39,367.0 L284.79,368.2 L284.79,377.2Z M288.37,377.2 L288.37,374.6 L288.81,373.4 L289.26,374.6 L289.26,377.2Z" fill="#f03a2a" fill-opacity="1.0"/><path d="M279.68,377.2 L279.68,354.1 L280.18,352.9 L280.67,354.1 L280.67,377.2Z M285.40,377.2 L285.40,367.5 L285.87,366.3 L286.34,367.5 L286.34,377.2Z M286.84,377.2 L286.84,370.7 L287.28,369.5 L287.73,370.7 L287.73,377.2Z" fill="#f58a4a" fill-opacity="1.0"/>
<path d="M264.5,377.2 L264.50,377.0 L264.70,320.5 L265.30,319.5 L265.70,377.0 L265.7,377.2Z" fill="#f58a8a" fill-opacity="1.0"/>
<path d="M288.6,377.2 L288.60,377.0 L289.10,373.0 L289.60,377.0 L289.6,377.2Z" fill="#f03030" fill-opacity="1.0"/>
<path d="M291.0,377.2 L291.00,377.0 L291.50,373.6 L292.00,377.0 L292.0,377.2Z" fill="#f03030" fill-opacity="1.0"/>
<path d="M296.2,377.2 L296.20,377.0 L296.50,366.0 L297.70,366.0 L298.00,377.0 L298.0,377.2Z" fill="#c87a30" fill-opacity="1.0"/>
<rect x="36.2" y="255.4" width="262.2" height="121.79999999999998" fill="none" stroke="#1a1a1a" stroke-width="0.7"/>
<text x="53.0" y="386.5" font-size="8.8" font-weight="normal" text-anchor="middle" fill="#111" font-family='"Liberation Serif", "Times New Roman", serif' >2</text>
<text x="85.6" y="386.5" font-size="8.8" font-weight="normal" text-anchor="middle" fill="#111" font-family='"Liberation Serif", "Times New Roman", serif' >4</text>
<text x="118.2" y="386.5" font-size="8.8" font-weight="normal" text-anchor="middle" fill="#111" font-family='"Liberation Serif", "Times New Roman", serif' >6</text>
<text x="150.9" y="386.5" font-size="8.8" font-weight="normal" text-anchor="middle" fill="#111" font-family='"Liberation Serif", "Times New Roman", serif' >8</text>
<text x="183.5" y="386.5" font-size="8.8" font-weight="normal" text-anchor="middle" fill="#111" font-family='"Liberation Serif", "Times New Roman", serif' >10</text>
<text x="216.1" y="386.5" font-size="8.8" font-weight="normal" text-anchor="middle" fill="#111" font-family='"Liberation Serif", "Times New Roman", serif' >12</text>
<text x="248.7" y="386.5" font-size="8.8" font-weight="normal" text-anchor="middle" fill="#111" font-family='"Liberation Serif", "Times New Roman", serif' >14</text>
<text x="281.3" y="386.5" font-size="8.8" font-weight="normal" text-anchor="middle" fill="#111" font-family='"Liberation Serif", "Times New Roman", serif' >16</text>
<line x1="53.0" y1="377.2" x2="53.0" y2="374.59999999999997" stroke="#1a1a1a" stroke-width="0.5"/>
<line x1="53.0" y1="255.4" x2="53.0" y2="258.0" stroke="#1a1a1a" stroke-width="0.5"/>
<line x1="69.3" y1="377.2" x2="69.3" y2="375.59999999999997" stroke="#1a1a1a" stroke-width="0.5"/>
<line x1="69.3" y1="255.4" x2="69.3" y2="257.0" stroke="#1a1a1a" stroke-width="0.5"/>
<line x1="85.6" y1="377.2" x2="85.6" y2="374.59999999999997" stroke="#1a1a1a" stroke-width="0.5"/>
<line x1="85.6" y1="255.4" x2="85.6" y2="258.0" stroke="#1a1a1a" stroke-width="0.5"/>
<line x1="101.9" y1="377.2" x2="101.9" y2="375.59999999999997" stroke="#1a1a1a" stroke-width="0.5"/>
<line x1="101.9" y1="255.4" x2="101.9" y2="257.0" stroke="#1a1a1a" stroke-width="0.5"/>
<line x1="118.2" y1="377.2" x2="118.2" y2="374.59999999999997" stroke="#1a1a1a" stroke-width="0.5"/>
<line x1="118.2" y1="255.4" x2="118.2" y2="258.0" stroke="#1a1a1a" stroke-width="0.5"/>
<line x1="134.6" y1="377.2" x2="134.6" y2="375.59999999999997" stroke="#1a1a1a" stroke-width="0.5"/>
<line x1="134.6" y1="255.4" x2="134.6" y2="257.0" stroke="#1a1a1a" stroke-width="0.5"/>
<line x1="150.9" y1="377.2" x2="150.9" y2="374.59999999999997" stroke="#1a1a1a" stroke-width="0.5"/>
<line x1="150.9" y1="255.4" x2="150.9" y2="258.0" stroke="#1a1a1a" stroke-width="0.5"/>
<line x1="167.2" y1="377.2" x2="167.2" y2="375.59999999999997" stroke="#1a1a1a" stroke-width="0.5"/>
<line x1="167.2" y1="255.4" x2="167.2" y2="257.0" stroke="#1a1a1a" stroke-width="0.5"/>
<line x1="183.5" y1="377.2" x2="183.5" y2="374.59999999999997" stroke="#1a1a1a" stroke-width="0.5"/>
<line x1="183.5" y1="255.4" x2="183.5" y2="258.0" stroke="#1a1a1a" stroke-width="0.5"/>
<line x1="199.8" y1="377.2" x2="199.8" y2="375.59999999999997" stroke="#1a1a1a" stroke-width="0.5"/>
<line x1="199.8" y1="255.4" x2="199.8" y2="257.0" stroke="#1a1a1a" stroke-width="0.5"/>
<line x1="216.1" y1="377.2" x2="216.1" y2="374.59999999999997" stroke="#1a1a1a" stroke-width="0.5"/>
<line x1="216.1" y1="255.4" x2="216.1" y2="258.0" stroke="#1a1a1a" stroke-width="0.5"/>
<line x1="232.4" y1="377.2" x2="232.4" y2="375.59999999999997" stroke="#1a1a1a" stroke-width="0.5"/>
<line x1="232.4" y1="255.4" x2="232.4" y2="257.0" stroke="#1a1a1a" stroke-width="0.5"/>
<line x1="248.7" y1="377.2" x2="248.7" y2="374.59999999999997" stroke="#1a1a1a" stroke-width="0.5"/>
<line x1="248.7" y1="255.4" x2="248.7" y2="258.0" stroke="#1a1a1a" stroke-width="0.5"/>
<line x1="265.0" y1="377.2" x2="265.0" y2="375.59999999999997" stroke="#1a1a1a" stroke-width="0.5"/>
<line x1="265.0" y1="255.4" x2="265.0" y2="257.0" stroke="#1a1a1a" stroke-width="0.5"/>
<line x1="281.3" y1="377.2" x2="281.3" y2="374.59999999999997" stroke="#1a1a1a" stroke-width="0.5"/>
<line x1="281.3" y1="255.4" x2="281.3" y2="258.0" stroke="#1a1a1a" stroke-width="0.5"/>
<line x1="36.2" y1="277.4" x2="38.800000000000004" y2="277.4" stroke="#1a1a1a" stroke-width="0.5"/>
<line x1="298.4" y1="277.4" x2="295.79999999999995" y2="277.4" stroke="#1a1a1a" stroke-width="0.5"/>
<text x="33.2" y="280.0" font-size="8.8" font-weight="normal" text-anchor="end" fill="#111" font-family='"Liberation Serif", "Times New Roman", serif' >10</text>
<line x1="36.2" y1="304.2" x2="38.800000000000004" y2="304.2" stroke="#1a1a1a" stroke-width="0.5"/>
<line x1="298.4" y1="304.2" x2="295.79999999999995" y2="304.2" stroke="#1a1a1a" stroke-width="0.5"/>
<text x="33.2" y="306.8" font-size="8.8" font-weight="normal" text-anchor="end" fill="#111" font-family='"Liberation Serif", "Times New Roman", serif' >1</text>
<line x1="36.2" y1="331.0" x2="38.800000000000004" y2="331.0" stroke="#1a1a1a" stroke-width="0.5"/>
<line x1="298.4" y1="331.0" x2="295.79999999999995" y2="331.0" stroke="#1a1a1a" stroke-width="0.5"/>
<text x="33.2" y="333.6" font-size="8.8" font-weight="normal" text-anchor="end" fill="#111" font-family='"Liberation Serif", "Times New Roman", serif' >0.1</text>
<line x1="36.2" y1="357.8" x2="38.800000000000004" y2="357.8" stroke="#1a1a1a" stroke-width="0.5"/>
<line x1="298.4" y1="357.8" x2="295.79999999999995" y2="357.8" stroke="#1a1a1a" stroke-width="0.5"/>
<text x="33.2" y="360.4" font-size="8.8" font-weight="normal" text-anchor="end" fill="#111" font-family='"Liberation Serif", "Times New Roman", serif' >0.01</text>
<line x1="36.2" y1="371.8" x2="37.6" y2="371.8" stroke="#1a1a1a" stroke-width="0.35"/>
<line x1="298.4" y1="371.8" x2="297.0" y2="371.8" stroke="#1a1a1a" stroke-width="0.35"/>
<line x1="36.2" y1="368.5" x2="37.6" y2="368.5" stroke="#1a1a1a" stroke-width="0.35"/>
<line x1="298.4" y1="368.5" x2="297.0" y2="368.5" stroke="#1a1a1a" stroke-width="0.35"/>
<line x1="36.2" y1="365.9" x2="37.6" y2="365.9" stroke="#1a1a1a" stroke-width="0.35"/>
<line x1="298.4" y1="365.9" x2="297.0" y2="365.9" stroke="#1a1a1a" stroke-width="0.35"/>
<line x1="36.2" y1="363.7" x2="37.6" y2="363.7" stroke="#1a1a1a" stroke-width="0.35"/>
<line x1="298.4" y1="363.7" x2="297.0" y2="363.7" stroke="#1a1a1a" stroke-width="0.35"/>
<line x1="36.2" y1="362.0" x2="37.6" y2="362.0" stroke="#1a1a1a" stroke-width="0.35"/>
<line x1="298.4" y1="362.0" x2="297.0" y2="362.0" stroke="#1a1a1a" stroke-width="0.35"/>
<line x1="36.2" y1="360.4" x2="37.6" y2="360.4" stroke="#1a1a1a" stroke-width="0.35"/>
<line x1="298.4" y1="360.4" x2="297.0" y2="360.4" stroke="#1a1a1a" stroke-width="0.35"/>
<line x1="36.2" y1="359.0" x2="37.6" y2="359.0" stroke="#1a1a1a" stroke-width="0.35"/>
<line x1="298.4" y1="359.0" x2="297.0" y2="359.0" stroke="#1a1a1a" stroke-width="0.35"/>
<line x1="36.2" y1="349.7" x2="37.6" y2="349.7" stroke="#1a1a1a" stroke-width="0.35"/>
<line x1="298.4" y1="349.7" x2="297.0" y2="349.7" stroke="#1a1a1a" stroke-width="0.35"/>
<line x1="36.2" y1="345.0" x2="37.6" y2="345.0" stroke="#1a1a1a" stroke-width="0.35"/>
<line x1="298.4" y1="345.0" x2="297.0" y2="345.0" stroke="#1a1a1a" stroke-width="0.35"/>
<line x1="36.2" y1="341.7" x2="37.6" y2="341.7" stroke="#1a1a1a" stroke-width="0.35"/>
<line x1="298.4" y1="341.7" x2="297.0" y2="341.7" stroke="#1a1a1a" stroke-width="0.35"/>
<line x1="36.2" y1="339.1" x2="37.6" y2="339.1" stroke="#1a1a1a" stroke-width="0.35"/>
<line x1="298.4" y1="339.1" x2="297.0" y2="339.1" stroke="#1a1a1a" stroke-width="0.35"/>
<line x1="36.2" y1="336.9" x2="37.6" y2="336.9" stroke="#1a1a1a" stroke-width="0.35"/>
<line x1="298.4" y1="336.9" x2="297.0" y2="336.9" stroke="#1a1a1a" stroke-width="0.35"/>
<line x1="36.2" y1="335.2" x2="37.6" y2="335.2" stroke="#1a1a1a" stroke-width="0.35"/>
<line x1="298.4" y1="335.2" x2="297.0" y2="335.2" stroke="#1a1a1a" stroke-width="0.35"/>
<line x1="36.2" y1="333.6" x2="37.6" y2="333.6" stroke="#1a1a1a" stroke-width="0.35"/>
<line x1="298.4" y1="333.6" x2="297.0" y2="333.6" stroke="#1a1a1a" stroke-width="0.35"/>
<line x1="36.2" y1="332.2" x2="37.6" y2="332.2" stroke="#1a1a1a" stroke-width="0.35"/>
<line x1="298.4" y1="332.2" x2="297.0" y2="332.2" stroke="#1a1a1a" stroke-width="0.35"/>
<line x1="36.2" y1="322.9" x2="37.6" y2="322.9" stroke="#1a1a1a" stroke-width="0.35"/>
<line x1="298.4" y1="322.9" x2="297.0" y2="322.9" stroke="#1a1a1a" stroke-width="0.35"/>
<line x1="36.2" y1="318.2" x2="37.6" y2="318.2" stroke="#1a1a1a" stroke-width="0.35"/>
<line x1="298.4" y1="318.2" x2="297.0" y2="318.2" stroke="#1a1a1a" stroke-width="0.35"/>
<line x1="36.2" y1="314.9" x2="37.6" y2="314.9" stroke="#1a1a1a" stroke-width="0.35"/>
<line x1="298.4" y1="314.9" x2="297.0" y2="314.9" stroke="#1a1a1a" stroke-width="0.35"/>
<line x1="36.2" y1="312.3" x2="37.6" y2="312.3" stroke="#1a1a1a" stroke-width="0.35"/>
<line x1="298.4" y1="312.3" x2="297.0" y2="312.3" stroke="#1a1a1a" stroke-width="0.35"/>
<line x1="36.2" y1="310.1" x2="37.6" y2="310.1" stroke="#1a1a1a" stroke-width="0.35"/>
<line x1="298.4" y1="310.1" x2="297.0" y2="310.1" stroke="#1a1a1a" stroke-width="0.35"/>
<line x1="36.2" y1="308.4" x2="37.6" y2="308.4" stroke="#1a1a1a" stroke-width="0.35"/>
<line x1="298.4" y1="308.4" x2="297.0" y2="308.4" stroke="#1a1a1a" stroke-width="0.35"/>
<line x1="36.2" y1="306.8" x2="37.6" y2="306.8" stroke="#1a1a1a" stroke-width="0.35"/>
<line x1="298.4" y1="306.8" x2="297.0" y2="306.8" stroke="#1a1a1a" stroke-width="0.35"/>
<line x1="36.2" y1="305.4" x2="37.6" y2="305.4" stroke="#1a1a1a" stroke-width="0.35"/>
<line x1="298.4" y1="305.4" x2="297.0" y2="305.4" stroke="#1a1a1a" stroke-width="0.35"/>
<line x1="36.2" y1="296.1" x2="37.6" y2="296.1" stroke="#1a1a1a" stroke-width="0.35"/>
<line x1="298.4" y1="296.1" x2="297.0" y2="296.1" stroke="#1a1a1a" stroke-width="0.35"/>
<line x1="36.2" y1="291.4" x2="37.6" y2="291.4" stroke="#1a1a1a" stroke-width="0.35"/>
<line x1="298.4" y1="291.4" x2="297.0" y2="291.4" stroke="#1a1a1a" stroke-width="0.35"/>
<line x1="36.2" y1="288.1" x2="37.6" y2="288.1" stroke="#1a1a1a" stroke-width="0.35"/>
<line x1="298.4" y1="288.1" x2="297.0" y2="288.1" stroke="#1a1a1a" stroke-width="0.35"/>
<line x1="36.2" y1="285.5" x2="37.6" y2="285.5" stroke="#1a1a1a" stroke-width="0.35"/>
<line x1="298.4" y1="285.5" x2="297.0" y2="285.5" stroke="#1a1a1a" stroke-width="0.35"/>
<line x1="36.2" y1="283.3" x2="37.6" y2="283.3" stroke="#1a1a1a" stroke-width="0.35"/>
<line x1="298.4" y1="283.3" x2="297.0" y2="283.3" stroke="#1a1a1a" stroke-width="0.35"/>
<line x1="36.2" y1="281.6" x2="37.6" y2="281.6" stroke="#1a1a1a" stroke-width="0.35"/>
<line x1="298.4" y1="281.6" x2="297.0" y2="281.6" stroke="#1a1a1a" stroke-width="0.35"/>
<line x1="36.2" y1="280.0" x2="37.6" y2="280.0" stroke="#1a1a1a" stroke-width="0.35"/>
<line x1="298.4" y1="280.0" x2="297.0" y2="280.0" stroke="#1a1a1a" stroke-width="0.35"/>
<line x1="36.2" y1="278.6" x2="37.6" y2="278.6" stroke="#1a1a1a" stroke-width="0.35"/>
<line x1="298.4" y1="278.6" x2="297.0" y2="278.6" stroke="#1a1a1a" stroke-width="0.35"/>
<line x1="36.2" y1="269.3" x2="37.6" y2="269.3" stroke="#1a1a1a" stroke-width="0.35"/>
<line x1="298.4" y1="269.3" x2="297.0" y2="269.3" stroke="#1a1a1a" stroke-width="0.35"/>
<line x1="36.2" y1="264.6" x2="37.6" y2="264.6" stroke="#1a1a1a" stroke-width="0.35"/>
<line x1="298.4" y1="264.6" x2="297.0" y2="264.6" stroke="#1a1a1a" stroke-width="0.35"/>
<line x1="36.2" y1="261.3" x2="37.6" y2="261.3" stroke="#1a1a1a" stroke-width="0.35"/>
<line x1="298.4" y1="261.3" x2="297.0" y2="261.3" stroke="#1a1a1a" stroke-width="0.35"/>
<line x1="36.2" y1="258.7" x2="37.6" y2="258.7" stroke="#1a1a1a" stroke-width="0.35"/>
<line x1="298.4" y1="258.7" x2="297.0" y2="258.7" stroke="#1a1a1a" stroke-width="0.35"/>
<line x1="36.2" y1="256.5" x2="37.6" y2="256.5" stroke="#1a1a1a" stroke-width="0.35"/>
<line x1="298.4" y1="256.5" x2="297.0" y2="256.5" stroke="#1a1a1a" stroke-width="0.35"/>
<text x="167.5" y="396.9" font-size="9.8" font-weight="normal" text-anchor="middle" fill="#111" font-family='"Liberation Serif", "Times New Roman", serif' >Wavelength (µm)</text>
<text transform="translate(12.6,311.5) rotate(-90)" font-size="9.2" text-anchor="middle" fill="#111" font-family='"Liberation Serif", "Times New Roman", serif'>Intensity (cm/mol * 10<tspan font-size="5.8" dy="-3.2"> −18</tspan><tspan dy="3.2">)</tspan></text>
<text x="91.3" y="266" font-size="9.0" font-weight="normal" text-anchor="middle" fill="#111" font-family='"Liberation Serif", "Times New Roman", serif' >Environmental</text>
<text x="91.8" y="274.2" font-size="9.0" font-weight="normal" text-anchor="middle" fill="#111" font-family='"Liberation Serif", "Times New Roman", serif' >monitoring</text>
<line x1="66" y1="278.6" x2="117" y2="278.6" stroke="#000" stroke-width="0.5" marker-start="url(#arrS)" marker-end="url(#arrS)"/>
<text x="159.7" y="266" font-size="9.0" font-weight="normal" text-anchor="middle" fill="#111" font-family='"Liberation Serif", "Times New Roman", serif' >Industrial process</text>
<text x="157.7" y="274.4" font-size="9.0" font-weight="normal" text-anchor="middle" fill="#111" font-family='"Liberation Serif", "Times New Roman", serif' >control</text>
<line x1="132" y1="276.6" x2="191" y2="276.6" stroke="#000" stroke-width="0.5" marker-start="url(#arrS)" marker-end="url(#arrS)"/>
<text x="182" y="291" font-size="9.0" font-weight="normal" text-anchor="middle" fill="#111" font-family='"Liberation Serif", "Times New Roman", serif' >Medical diagnosis</text>
<line x1="153.6" y1="295.6" x2="213.6" y2="295.6" stroke="#000" stroke-width="0.5" marker-start="url(#arrS)" marker-end="url(#arrS)"/>
<text x="83.6" y="289" font-size="10" font-weight="normal" text-anchor="start" fill="#f01010" font-family='"Liberation Serif", "Times New Roman", serif' >CO<tspan font-size="6.2" dy="2">2</tspan></text>
<text x="55.6" y="317" font-size="10" font-weight="normal" text-anchor="start" fill="#000" font-family='"Liberation Serif", "Times New Roman", serif' >H<tspan font-size="6.2" dy="2">2</tspan><tspan dy="-2">O</tspan></text>
<text x="93" y="311.6" font-size="10" font-weight="normal" text-anchor="start" fill="#80108a" font-family='"Liberation Serif", "Times New Roman", serif' >CO</text>
<text x="99.6" y="330" font-size="8.4" font-weight="normal" text-anchor="start" fill="#ff10e0" font-family='"Liberation Serif", "Times New Roman", serif' >NO</text>
<text x="113.6" y="317" font-size="10" font-weight="normal" text-anchor="start" fill="#14e614" font-family='"Liberation Serif", "Times New Roman", serif' >NO<tspan font-size="6.2" dy="2">2</tspan></text>
<text x="138" y="330" font-size="10" font-weight="normal" text-anchor="start" fill="#2222e8" font-family='"Liberation Serif", "Times New Roman", serif' >CH<tspan font-size="6.2" dy="2">4</tspan></text>
<text x="166" y="317" font-size="10" font-weight="normal" text-anchor="start" fill="#0c7a1c" font-family='"Liberation Serif", "Times New Roman", serif' >O<tspan font-size="6.2" dy="2">3</tspan></text>
<text x="184.4" y="310" font-size="10" font-weight="normal" text-anchor="start" fill="#f59a4a" font-family='"Liberation Serif", "Times New Roman", serif' >NH<tspan font-size="6.2" dy="2">3</tspan></text>
<g transform="rotate(-9.3 378.4 324.1)"><ellipse cx="378.4" cy="324.1" rx="65" ry="49.8" fill="url(#gMoS)"/><ellipse cx="378.4" cy="324.1" rx="66" ry="50.8" fill="url(#gFade)"/></g>
<ellipse cx="421.6" cy="306" rx="24" ry="23.8" fill="#5a8fd0"/>
<circle cx="418.5" cy="327.9" r="24.5" fill="url(#gOrg)"/>
<ellipse cx="419.4" cy="315.8" rx="27" ry="24.5" fill="url(#gGold)"/>
<path d="M321,304.3 L385,304.3 C392.5,304.3 392.5,296.3 398.4,295.3" fill="none" stroke="#000" stroke-width="1.15"/>
<path d="M320,348.3 L383,348.3 C391.5,348.3 392,342.3 398.4,341.3" fill="none" stroke="#000" stroke-width="1.15"/>
<line x1="317" y1="313.6" x2="392.5" y2="313.6" stroke="#111" stroke-width="1" stroke-dasharray="1.1,0.9"/>
<text x="306.2" y="305.2" font-size="9.2" font-weight="bold" text-anchor="start" fill="#000" font-family='"Liberation Sans", Arial, Helvetica, sans-serif' textLength="8.8" lengthAdjust="spacingAndGlyphs">E<tspan font-size="6.6" dy="2.4">C</tspan></text>
<text x="306.8" y="317.6" font-size="9.2" font-weight="bold" text-anchor="start" fill="#000" font-family='"Liberation Sans", Arial, Helvetica, sans-serif' textLength="8.8" lengthAdjust="spacingAndGlyphs">E<tspan font-size="6.6" dy="2.4">F</tspan></text>
<text x="308.2" y="351.6" font-size="9.2" font-weight="bold" text-anchor="start" fill="#000" font-family='"Liberation Sans", Arial, Helvetica, sans-serif' textLength="8.8" lengthAdjust="spacingAndGlyphs">E<tspan font-size="6.6" dy="2.4">V</tspan></text>
<circle cx="350.4" cy="299.8" r="3.7" fill="#e0707c"/>
<text x="350.5" y="301.3" font-size="4.8" font-weight="bold" text-anchor="middle" fill="#5a3a8a" font-family='"Liberation Sans", Arial, Helvetica, sans-serif' >e-</text>
<circle cx="372.6" cy="298.8" r="4" fill="#c81818"/>
<text x="372.7" y="300.8" font-size="6" font-weight="bold" text-anchor="middle" fill="#fff" font-family='"Liberation Sans", Arial, Helvetica, sans-serif' >e-</text>
<circle cx="349.1" cy="353.6" r="3.6" fill="#f2a878"/>
<text x="349.1" y="354.8" font-size="3.6" font-weight="bold" text-anchor="middle" fill="#fff" font-family='"Liberation Sans", Arial, Helvetica, sans-serif' >h+</text>
<line x1="349.6" y1="310" x2="349.6" y2="343" stroke="#2a7fd6" stroke-width="1.2" stroke-dasharray="1.5,1.3"/>
<polygon points="349.6,306 347.4,310.4 351.8,310.4" fill="#2a7fd6"/>
<path d="M346.2,340.8 L349.6,345.4 L353,340.8" fill="none" stroke="#2a7fd6" stroke-width="1.2"/>
<path d="M415.8,281.6 C408,272.4 387,271.6 378.8,291 C388,274.8 406,276 415.8,281.6Z" fill="#d42020" stroke="#d42020" stroke-width="0.4" stroke-linejoin="round"/>
<polygon points="375.6,295.6 376.6,289.4 381.6,292.4" fill="#d42020"/>
<path d="M366.1,248.9 L372.8,249.1 L368.7,255.6 L375.1,256.1 L371.3,261.3 L377.4,261.7 L373.4,266.9 L377.2,270.8" fill="none" stroke="#2a2a2a" stroke-width="0.85" stroke-linejoin="round"/>
<path d="M371.1,247.4 L378.3,247.6 L373.7,253.7 L381,254.3 L376.7,260.1 L382.8,260.8 L378.4,265.6 L382.5,269.5" fill="none" stroke="#2a2a2a" stroke-width="0.85" stroke-linejoin="round"/>
<polygon points="378.3,272 375.6,269.6 378.4,268.6" fill="#111"/>
<polygon points="383.6,270.6 381,268.2 383.8,267.2" fill="#111"/>
<text x="360.2" y="267.6" font-size="8.2" font-weight="bold" text-anchor="start" fill="#222" font-family='"Liberation Serif", "Times New Roman", serif' >hυ</text>
<text x="399.6" y="271.4" font-size="7.3" font-weight="normal" text-anchor="start" fill="#c0242c" font-family='"Liberation Sans", Arial, Helvetica, sans-serif' >Hot electron</text>
<text x="430" y="285" font-size="7.3" font-weight="normal" text-anchor="start" fill="#c0242c" font-family='"Liberation Sans", Arial, Helvetica, sans-serif' >electron cloud</text>
<line x1="428.4" y1="288.1" x2="438.3" y2="287" stroke="#222" stroke-width="0.5"/>
<circle cx="438.7" cy="287" r="1" fill="#222"/>
<line x1="408.4" y1="288.1" x2="428.4" y2="288.1" stroke="#2a3450" stroke-width="1.3" stroke-dasharray="3.2,2.4"/>
<text x="410.0" y="347.6" font-size="6.2" font-weight="bold" text-anchor="start" fill="#222" font-family='"Liberation Sans", Arial, Helvetica, sans-serif' letter-spacing="2.2">++++</text>
<text x="418.1" y="312.3" font-size="8.2" font-weight="bold" text-anchor="middle" fill="#111" font-family='"Liberation Sans", Arial, Helvetica, sans-serif' textLength="17.8" lengthAdjust="spacingAndGlyphs">LSPR</text>
<text x="396.4" y="323.2" font-size="6.6" font-weight="bold" text-anchor="start" fill="#111" font-family='"Liberation Serif", "Times New Roman", serif' >Plasmonic <tspan font-size="8.8">Au</tspan></text>
<text x="343.6" y="370.4" font-size="8.5" font-weight="bold" text-anchor="start" fill="#222" font-family='"Liberation Serif", "Times New Roman", serif' >MoS<tspan font-size="5.4" dy="1.6">2</tspan></text>
<path d="M500.2,371.4 L520.0,370.8 L533.0,370.4 L540.0,370.0 L548.0,367.0 L557.0,363.0 L565.0,353.0 L569.4,342.0 L573.2,323.0 L575.2,312.0 L580.0,282.2 L585.4,312.0 L587.0,325.0 L589.2,341.0 L593.0,361.0 L595.0,366.5 L598.6,369.4 L603.0,362.5 L608.0,355.0 L614.0,348.6 L617.6,347.0 L621.0,348.6 L628.0,357.0 L636.0,368.0 L641.0,368.6 L646.0,368.0 L651.0,369.4 L656.0,370.6 L664.6,371.2" fill="none" stroke="#c4ae38" stroke-width="0.85" stroke-linejoin="round"/>
<path d="M500.2,370.4 L520.0,370.3 L533.0,370.0 L540.0,369.6 L548.0,366.3 L556.0,362.0 L563.0,353.0 L568.4,341.0 L572.0,323.0 L574.0,308.0 L580.0,263.4 L586.2,308.0 L587.8,330.0 L589.6,343.0 L593.0,361.0 L595.0,366.0 L598.6,369.6 L603.0,364.0 L608.0,357.5 L614.0,351.5 L617.0,350.0 L621.0,351.5 L628.0,360.0 L636.0,369.4 L641.0,369.6 L646.0,368.8 L651.0,369.8 L656.0,370.8 L664.6,371.4" fill="none" stroke="#5f96dc" stroke-width="0.85" stroke-linejoin="round"/>
<rect x="500.2" y="257.8" width="164.50000000000006" height="114.19999999999999" fill="none" stroke="#777" stroke-width="0.7"/>
<text x="500.1" y="381.8" font-size="7.2" font-weight="normal" text-anchor="middle" fill="#333" font-family='"Liberation Sans", Arial, Helvetica, sans-serif' >1.839</text>
<line x1="533.1" y1="372" x2="533.1" y2="369.8" stroke="#666" stroke-width="0.6"/>
<line x1="533.1" y1="257.8" x2="533.1" y2="260.0" stroke="#666" stroke-width="0.6"/>
<text x="533.0" y="381.8" font-size="7.2" font-weight="normal" text-anchor="middle" fill="#333" font-family='"Liberation Sans", Arial, Helvetica, sans-serif' >1.84</text>
<line x1="566.0" y1="372" x2="566.0" y2="369.8" stroke="#666" stroke-width="0.6"/>
<line x1="566.0" y1="257.8" x2="566.0" y2="260.0" stroke="#666" stroke-width="0.6"/>
<text x="565.9" y="381.8" font-size="7.2" font-weight="normal" text-anchor="middle" fill="#333" font-family='"Liberation Sans", Arial, Helvetica, sans-serif' >1.841</text>
<line x1="598.9" y1="372" x2="598.9" y2="369.8" stroke="#666" stroke-width="0.6"/>
<line x1="598.9" y1="257.8" x2="598.9" y2="260.0" stroke="#666" stroke-width="0.6"/>
<text x="598.8" y="381.8" font-size="7.2" font-weight="normal" text-anchor="middle" fill="#333" font-family='"Liberation Sans", Arial, Helvetica, sans-serif' >1.842</text>
<line x1="631.8" y1="372" x2="631.8" y2="369.8" stroke="#666" stroke-width="0.6"/>
<line x1="631.8" y1="257.8" x2="631.8" y2="260.0" stroke="#666" stroke-width="0.6"/>
<text x="631.7" y="381.8" font-size="7.2" font-weight="normal" text-anchor="middle" fill="#333" font-family='"Liberation Sans", Arial, Helvetica, sans-serif' >1.843</text>
<text x="664.6" y="381.8" font-size="7.2" font-weight="normal" text-anchor="middle" fill="#333" font-family='"Liberation Sans", Arial, Helvetica, sans-serif' >1.844</text>
<line x1="500.2" y1="357.7" x2="502.4" y2="357.7" stroke="#666" stroke-width="0.6"/>
<line x1="664.7" y1="357.7" x2="662.5" y2="357.7" stroke="#666" stroke-width="0.6"/>
<line x1="500.2" y1="343.4" x2="502.4" y2="343.4" stroke="#666" stroke-width="0.6"/>
<line x1="664.7" y1="343.4" x2="662.5" y2="343.4" stroke="#666" stroke-width="0.6"/>
<line x1="500.2" y1="329.2" x2="502.4" y2="329.2" stroke="#666" stroke-width="0.6"/>
<line x1="664.7" y1="329.2" x2="662.5" y2="329.2" stroke="#666" stroke-width="0.6"/>
<line x1="500.2" y1="314.9" x2="502.4" y2="314.9" stroke="#666" stroke-width="0.6"/>
<line x1="664.7" y1="314.9" x2="662.5" y2="314.9" stroke="#666" stroke-width="0.6"/>
<line x1="500.2" y1="300.6" x2="502.4" y2="300.6" stroke="#666" stroke-width="0.6"/>
<line x1="664.7" y1="300.6" x2="662.5" y2="300.6" stroke="#666" stroke-width="0.6"/>
<line x1="500.2" y1="286.4" x2="502.4" y2="286.4" stroke="#666" stroke-width="0.6"/>
<line x1="664.7" y1="286.4" x2="662.5" y2="286.4" stroke="#666" stroke-width="0.6"/>
<line x1="500.2" y1="272.1" x2="502.4" y2="272.1" stroke="#666" stroke-width="0.6"/>
<line x1="664.7" y1="272.1" x2="662.5" y2="272.1" stroke="#666" stroke-width="0.6"/>
<text x="583.2" y="392.4" font-size="9.8" font-weight="normal" text-anchor="middle" fill="#2a2a2a" font-family='"Liberation Sans", Arial, Helvetica, sans-serif' >Photon energy (eV)</text>
<text transform="translate(491,310.2) rotate(-90)" font-size="9.6" text-anchor="middle" fill="#2a2a2a" font-family='"Liberation Sans", Arial, Helvetica, sans-serif'>PL Intensity (a.u.)</text>
<text x="507" y="273.6" font-size="13.4" font-weight="normal" text-anchor="start" fill="#2a2a2a" font-family='"Liberation Sans", Arial, Helvetica, sans-serif' >A</text>
<text x="564" y="272" font-size="13.4" font-weight="normal" text-anchor="start" fill="#2a2a2a" font-family='"Liberation Sans", Arial, Helvetica, sans-serif' >A<tspan font-size="8.5" dy="-4.6">+</tspan></text>
<text x="613.4" y="344" font-size="13.4" font-weight="normal" text-anchor="start" fill="#2a2a2a" font-family='"Liberation Sans", Arial, Helvetica, sans-serif' >A<tspan font-size="7.6" dy="-5.2">0</tspan></text>
<text x="636.4" y="268.6" font-size="8.6" font-weight="normal" text-anchor="end" fill="#2a2a2a" font-family='"Liberation Sans", Arial, Helvetica, sans-serif' >bare MoS<tspan font-size="5.6" dy="2">2</tspan></text>
<text x="636.4" y="279.2" font-size="8.6" font-weight="normal" text-anchor="end" fill="#2a2a2a" font-family='"Liberation Sans", Arial, Helvetica, sans-serif' >with NO<tspan font-size="5.6" dy="2">2</tspan></text>
<line x1="637" y1="265.2" x2="656" y2="265.2" stroke="#c4ae38" stroke-width="0.85"/>
<line x1="637" y1="276" x2="656" y2="276" stroke="#5f96dc" stroke-width="0.85"/>
</svg>
</body></html>
